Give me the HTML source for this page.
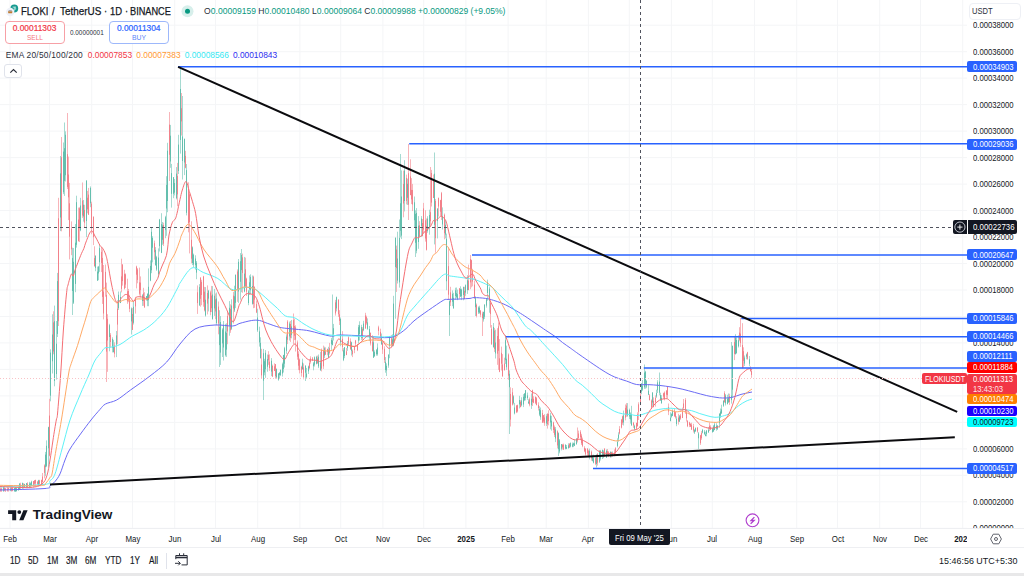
<!DOCTYPE html>
<html><head><meta charset="utf-8"><title>FLOKI / TetherUS</title>
<style>
*{box-sizing:border-box;margin:0;padding:0}
html,body{width:1024px;height:576px;overflow:hidden;background:#fff}
body{position:relative;font-family:"Liberation Sans",Arial,sans-serif;color:#131722}
#chart{position:absolute;left:0;top:0;width:1024px;height:576px}
.abs{position:absolute;white-space:nowrap}
.pl{position:absolute;left:973px;height:12px;line-height:12px;font-size:8.7px;color:#131722;transform:scaleX(0.885);transform-origin:0 50%;white-space:nowrap}
.pb{position:absolute;left:967.3px;width:49.7px;border-radius:2px;overflow:hidden;white-space:nowrap}
.pb span{position:absolute;left:5.5px;top:50%;margin-top:-6px;height:12px;line-height:12px;font-size:8.7px;transform:scaleX(0.885);transform-origin:0 50%}
.tl{position:absolute;top:532.5px;width:40px;text-align:center;font-size:8.5px;line-height:12px;color:#131722;transform:scaleX(0.93)}
.tl.b{font-weight:bold}
#taxis{position:absolute;left:0;top:528px;width:967px;height:19px;overflow:hidden}
#taxis .tl{top:4.5px}
#tb span{transform:scaleX(0.82);transform-origin:0 50%}
.tw{position:absolute;top:0;transform:scaleX(0.86);transform-origin:0 50%;white-space:nowrap}
</style></head>
<body>
<svg id="chart" width="1024" height="576" viewBox="0 0 1024 576">
<defs><clipPath id="cc"><rect x="0" y="0" width="967" height="528"/></clipPath></defs>
<g clip-path="url(#cc)">
<g stroke="#f4f5f7" stroke-width="1"><line x1="10.0" y1="0" x2="10.0" y2="528" /><line x1="49.5" y1="0" x2="49.5" y2="528" /><line x1="91.7" y1="0" x2="91.7" y2="528" /><line x1="132.5" y1="0" x2="132.5" y2="528" /><line x1="174.7" y1="0" x2="174.7" y2="528" /><line x1="215.5" y1="0" x2="215.5" y2="528" /><line x1="257.7" y1="0" x2="257.7" y2="528" /><line x1="299.9" y1="0" x2="299.9" y2="528" /><line x1="340.7" y1="0" x2="340.7" y2="528" /><line x1="382.9" y1="0" x2="382.9" y2="528" /><line x1="423.7" y1="0" x2="423.7" y2="528" /><line x1="465.9" y1="0" x2="465.9" y2="528" /><line x1="508.1" y1="0" x2="508.1" y2="528" /><line x1="546.2" y1="0" x2="546.2" y2="528" /><line x1="588.4" y1="0" x2="588.4" y2="528" /><line x1="629.3" y1="0" x2="629.3" y2="528" /><line x1="671.4" y1="0" x2="671.4" y2="528" /><line x1="712.3" y1="0" x2="712.3" y2="528" /><line x1="754.5" y1="0" x2="754.5" y2="528" /><line x1="796.7" y1="0" x2="796.7" y2="528" /><line x1="837.5" y1="0" x2="837.5" y2="528" /><line x1="879.7" y1="0" x2="879.7" y2="528" /><line x1="920.5" y1="0" x2="920.5" y2="528" /><line x1="962.7" y1="0" x2="962.7" y2="528" /><line x1="0" y1="528.3" x2="967" y2="528.3" /><line x1="0" y1="501.8" x2="967" y2="501.8" /><line x1="0" y1="475.3" x2="967" y2="475.3" /><line x1="0" y1="448.9" x2="967" y2="448.9" /><line x1="0" y1="422.4" x2="967" y2="422.4" /><line x1="0" y1="395.9" x2="967" y2="395.9" /><line x1="0" y1="369.4" x2="967" y2="369.4" /><line x1="0" y1="342.9" x2="967" y2="342.9" /><line x1="0" y1="316.5" x2="967" y2="316.5" /><line x1="0" y1="290.0" x2="967" y2="290.0" /><line x1="0" y1="263.5" x2="967" y2="263.5" /><line x1="0" y1="237.0" x2="967" y2="237.0" /><line x1="0" y1="210.5" x2="967" y2="210.5" /><line x1="0" y1="184.1" x2="967" y2="184.1" /><line x1="0" y1="157.6" x2="967" y2="157.6" /><line x1="0" y1="131.1" x2="967" y2="131.1" /><line x1="0" y1="104.6" x2="967" y2="104.6" /><line x1="0" y1="78.1" x2="967" y2="78.1" /><line x1="0" y1="51.7" x2="967" y2="51.7" /><line x1="0" y1="25.2" x2="967" y2="25.2" /></g>
<rect x="0" y="487.4" width="1" height="4.5" fill="#f8b4b9"/>
<rect x="1" y="487.4" width="1" height="4.5" fill="#f8b4b9"/>
<rect x="3" y="487.1" width="1" height="4.8" fill="#a6dad1"/>
<rect x="4" y="487.2" width="1" height="4.1" fill="#f8b4b9"/>
<rect x="5" y="488.1" width="1" height="3.9" fill="#f8b4b9"/>
<rect x="7" y="487.1" width="1" height="4.5" fill="#f8b4b9"/>
<rect x="8" y="487.7" width="1" height="3.9" fill="#f8b4b9"/>
<rect x="10" y="487.2" width="1" height="4.0" fill="#a6dad1"/>
<rect x="11" y="487.3" width="1" height="4.3" fill="#f8b4b9"/>
<rect x="12" y="487.3" width="1" height="4.0" fill="#f8b4b9"/>
<rect x="14" y="487.7" width="1" height="4.2" fill="#a6dad1"/>
<rect x="15" y="486.9" width="1" height="5.0" fill="#a6dad1"/>
<rect x="16" y="487.3" width="1" height="4.3" fill="#a6dad1"/>
<rect x="18" y="486.3" width="1" height="4.4" fill="#a6dad1"/>
<rect x="19" y="483.0" width="1" height="6.3" fill="#a6dad1"/>
<rect x="20" y="482.7" width="1" height="6.5" fill="#f8b4b9"/>
<rect x="22" y="482.7" width="1" height="6.7" fill="#a6dad1"/>
<rect x="23" y="483.1" width="1" height="5.6" fill="#f8b4b9"/>
<rect x="24" y="483.7" width="1" height="4.1" fill="#a6dad1"/>
<rect x="26" y="483.0" width="1" height="5.2" fill="#a6dad1"/>
<rect x="27" y="482.2" width="1" height="6.0" fill="#f8b4b9"/>
<rect x="29" y="481.8" width="1" height="6.4" fill="#a6dad1"/>
<rect x="30" y="482.4" width="1" height="4.5" fill="#a6dad1"/>
<rect x="31" y="480.7" width="1" height="5.5" fill="#a6dad1"/>
<rect x="33" y="481.0" width="1" height="5.8" fill="#f8b4b9"/>
<rect x="34" y="480.2" width="1" height="6.6" fill="#f8b4b9"/>
<rect x="35" y="479.8" width="1" height="6.8" fill="#f8b4b9"/>
<rect x="37" y="480.9" width="1" height="4.7" fill="#f8b4b9"/>
<rect x="38" y="479.8" width="1" height="6.3" fill="#a6dad1"/>
<rect x="39" y="479.8" width="1" height="6.1" fill="#f8b4b9"/>
<rect x="41" y="479.6" width="1" height="5.5" fill="#f8b4b9"/>
<rect x="42" y="473.0" width="1" height="9.3" fill="#f8b4b9"/>
<rect x="44" y="464.4" width="1" height="14.0" fill="#f8b4b9"/>
<rect x="45" y="451.9" width="1" height="24.3" fill="#a6dad1"/>
<rect x="46" y="440.4" width="1" height="26.7" fill="#a6dad1"/>
<rect x="48" y="426.7" width="1" height="40.0" fill="#a6dad1"/>
<rect x="49" y="398.8" width="1" height="57.6" fill="#f8b4b9"/>
<rect x="50" y="349.3" width="1" height="52.0" fill="#a6dad1"/>
<rect x="52" y="314.3" width="1" height="59.2" fill="#a6dad1"/>
<rect x="53" y="311.3" width="1" height="43.0" fill="#f8b4b9"/>
<rect x="54" y="305.6" width="1" height="80.7" fill="#a6dad1"/>
<rect x="56" y="321.0" width="1" height="58.6" fill="#a6dad1"/>
<rect x="57" y="272.9" width="1" height="64.1" fill="#a6dad1"/>
<rect x="58" y="197.8" width="1" height="128.2" fill="#f8b4b9"/>
<rect x="60" y="156.0" width="1" height="75.1" fill="#a6dad1"/>
<rect x="61" y="137.0" width="1" height="94.3" fill="#f8b4b9"/>
<rect x="63" y="142.5" width="1" height="51.6" fill="#a6dad1"/>
<rect x="64" y="122.5" width="1" height="73.4" fill="#a6dad1"/>
<rect x="65" y="131.3" width="1" height="50.2" fill="#a6dad1"/>
<rect x="67" y="113.0" width="1" height="76.0" fill="#f8b4b9"/>
<rect x="68" y="156.6" width="1" height="63.5" fill="#f8b4b9"/>
<rect x="69" y="182.9" width="1" height="76.5" fill="#f8b4b9"/>
<rect x="71" y="221.4" width="1" height="33.8" fill="#f8b4b9"/>
<rect x="72" y="247.7" width="1" height="67.3" fill="#a6dad1"/>
<rect x="73" y="248.0" width="1" height="56.0" fill="#a6dad1"/>
<rect x="75" y="224.1" width="1" height="68.1" fill="#a6dad1"/>
<rect x="76" y="195.7" width="1" height="51.9" fill="#a6dad1"/>
<rect x="78" y="207.6" width="1" height="34.0" fill="#f8b4b9"/>
<rect x="79" y="207.2" width="1" height="34.8" fill="#f8b4b9"/>
<rect x="80" y="197.8" width="1" height="33.4" fill="#a6dad1"/>
<rect x="82" y="182.5" width="1" height="35.4" fill="#f8b4b9"/>
<rect x="83" y="200.0" width="1" height="21.6" fill="#a6dad1"/>
<rect x="84" y="204.8" width="1" height="22.7" fill="#f8b4b9"/>
<rect x="86" y="180.3" width="1" height="56.8" fill="#a6dad1"/>
<rect x="87" y="190.9" width="1" height="22.4" fill="#f8b4b9"/>
<rect x="88" y="187.9" width="1" height="27.0" fill="#f8b4b9"/>
<rect x="90" y="186.4" width="1" height="20.8" fill="#a6dad1"/>
<rect x="91" y="201.7" width="1" height="32.5" fill="#f8b4b9"/>
<rect x="93" y="216.2" width="1" height="28.9" fill="#f8b4b9"/>
<rect x="94" y="246.3" width="1" height="20.5" fill="#f8b4b9"/>
<rect x="95" y="255.5" width="1" height="15.7" fill="#a6dad1"/>
<rect x="97" y="266.6" width="1" height="14.3" fill="#a6dad1"/>
<rect x="98" y="265.9" width="1" height="14.3" fill="#a6dad1"/>
<rect x="99" y="243.9" width="1" height="27.9" fill="#a6dad1"/>
<rect x="101" y="247.0" width="1" height="25.1" fill="#f8b4b9"/>
<rect x="102" y="249.4" width="1" height="54.5" fill="#f8b4b9"/>
<rect x="103" y="265.0" width="1" height="54.4" fill="#f8b4b9"/>
<rect x="105" y="264.5" width="1" height="32.2" fill="#f8b4b9"/>
<rect x="106" y="282.6" width="1" height="99.4" fill="#f8b4b9"/>
<rect x="107" y="314.2" width="1" height="57.6" fill="#f8b4b9"/>
<rect x="109" y="323.8" width="1" height="27.5" fill="#a6dad1"/>
<rect x="110" y="333.1" width="1" height="14.4" fill="#f8b4b9"/>
<rect x="112" y="337.3" width="1" height="15.1" fill="#a6dad1"/>
<rect x="113" y="339.8" width="1" height="12.6" fill="#a6dad1"/>
<rect x="114" y="342.3" width="1" height="15.1" fill="#f8b4b9"/>
<rect x="116" y="331.0" width="1" height="26.1" fill="#a6dad1"/>
<rect x="117" y="300.2" width="1" height="44.1" fill="#f8b4b9"/>
<rect x="118" y="291.5" width="1" height="18.4" fill="#a6dad1"/>
<rect x="120" y="291.4" width="1" height="11.7" fill="#a6dad1"/>
<rect x="121" y="258.7" width="1" height="33.7" fill="#f8b4b9"/>
<rect x="122" y="264.0" width="1" height="21.6" fill="#f8b4b9"/>
<rect x="124" y="269.8" width="1" height="19.7" fill="#f8b4b9"/>
<rect x="125" y="273.4" width="1" height="14.6" fill="#f8b4b9"/>
<rect x="127" y="278.7" width="1" height="25.1" fill="#f8b4b9"/>
<rect x="128" y="288.9" width="1" height="13.3" fill="#f8b4b9"/>
<rect x="129" y="294.8" width="1" height="17.3" fill="#f8b4b9"/>
<rect x="131" y="307.4" width="1" height="27.1" fill="#a6dad1"/>
<rect x="132" y="308.0" width="1" height="22.0" fill="#f8b4b9"/>
<rect x="133" y="301.3" width="1" height="23.2" fill="#a6dad1"/>
<rect x="135" y="296.9" width="1" height="16.7" fill="#f8b4b9"/>
<rect x="136" y="265.7" width="1" height="22.7" fill="#f8b4b9"/>
<rect x="137" y="268.1" width="1" height="15.2" fill="#f8b4b9"/>
<rect x="139" y="267.6" width="1" height="27.9" fill="#f8b4b9"/>
<rect x="140" y="276.4" width="1" height="21.0" fill="#f8b4b9"/>
<rect x="142" y="294.2" width="1" height="11.7" fill="#a6dad1"/>
<rect x="143" y="287.8" width="1" height="18.0" fill="#f8b4b9"/>
<rect x="144" y="292.2" width="1" height="15.7" fill="#f8b4b9"/>
<rect x="146" y="296.1" width="1" height="4.6" fill="#a6dad1"/>
<rect x="147" y="293.2" width="1" height="13.0" fill="#a6dad1"/>
<rect x="148" y="268.4" width="1" height="37.8" fill="#a6dad1"/>
<rect x="150" y="260.4" width="1" height="20.8" fill="#a6dad1"/>
<rect x="151" y="227.8" width="1" height="45.4" fill="#a6dad1"/>
<rect x="152" y="236.2" width="1" height="26.2" fill="#a6dad1"/>
<rect x="154" y="240.6" width="1" height="19.0" fill="#f8b4b9"/>
<rect x="155" y="247.1" width="1" height="18.5" fill="#a6dad1"/>
<rect x="156" y="255.8" width="1" height="15.0" fill="#a6dad1"/>
<rect x="158" y="248.4" width="1" height="28.7" fill="#a6dad1"/>
<rect x="159" y="218.9" width="1" height="32.6" fill="#a6dad1"/>
<rect x="161" y="213.2" width="1" height="39.9" fill="#a6dad1"/>
<rect x="162" y="222.0" width="1" height="22.8" fill="#a6dad1"/>
<rect x="163" y="222.7" width="1" height="23.3" fill="#f8b4b9"/>
<rect x="165" y="215.8" width="1" height="22.4" fill="#a6dad1"/>
<rect x="166" y="176.2" width="1" height="59.6" fill="#a6dad1"/>
<rect x="167" y="142.8" width="1" height="69.4" fill="#a6dad1"/>
<rect x="169" y="112.0" width="1" height="69.0" fill="#f8b4b9"/>
<rect x="170" y="124.9" width="1" height="42.9" fill="#a6dad1"/>
<rect x="171" y="163.9" width="1" height="43.7" fill="#a6dad1"/>
<rect x="173" y="177.1" width="1" height="21.1" fill="#a6dad1"/>
<rect x="174" y="179.0" width="1" height="16.4" fill="#a6dad1"/>
<rect x="176" y="167.1" width="1" height="32.3" fill="#a6dad1"/>
<rect x="177" y="162.9" width="1" height="43.4" fill="#f8b4b9"/>
<rect x="178" y="134.8" width="1" height="39.2" fill="#a6dad1"/>
<rect x="180" y="66.0" width="1" height="87.6" fill="#a6dad1"/>
<rect x="181" y="93.0" width="1" height="42.5" fill="#f8b4b9"/>
<rect x="182" y="96.0" width="1" height="83.5" fill="#a6dad1"/>
<rect x="184" y="138.7" width="1" height="36.4" fill="#a6dad1"/>
<rect x="185" y="150.8" width="1" height="17.5" fill="#f8b4b9"/>
<rect x="186" y="164.0" width="1" height="51.4" fill="#a6dad1"/>
<rect x="188" y="182.3" width="1" height="50.0" fill="#f8b4b9"/>
<rect x="189" y="193.2" width="1" height="60.2" fill="#f8b4b9"/>
<rect x="191" y="221.3" width="1" height="42.0" fill="#f8b4b9"/>
<rect x="192" y="246.4" width="1" height="18.7" fill="#a6dad1"/>
<rect x="193" y="253.6" width="1" height="13.5" fill="#a6dad1"/>
<rect x="195" y="255.3" width="1" height="14.3" fill="#a6dad1"/>
<rect x="196" y="261.0" width="1" height="18.2" fill="#a6dad1"/>
<rect x="197" y="285.4" width="1" height="28.5" fill="#f8b4b9"/>
<rect x="199" y="284.1" width="1" height="21.6" fill="#a6dad1"/>
<rect x="200" y="277.4" width="1" height="29.3" fill="#f8b4b9"/>
<rect x="201" y="279.8" width="1" height="25.4" fill="#f8b4b9"/>
<rect x="203" y="275.8" width="1" height="30.9" fill="#f8b4b9"/>
<rect x="204" y="286.9" width="1" height="24.5" fill="#f8b4b9"/>
<rect x="205" y="287.1" width="1" height="29.5" fill="#a6dad1"/>
<rect x="207" y="285.4" width="1" height="29.0" fill="#f8b4b9"/>
<rect x="208" y="289.9" width="1" height="21.5" fill="#a6dad1"/>
<rect x="210" y="290.7" width="1" height="24.6" fill="#f8b4b9"/>
<rect x="211" y="285.9" width="1" height="26.2" fill="#f8b4b9"/>
<rect x="212" y="286.1" width="1" height="33.6" fill="#a6dad1"/>
<rect x="214" y="288.9" width="1" height="27.0" fill="#a6dad1"/>
<rect x="215" y="293.5" width="1" height="25.6" fill="#f8b4b9"/>
<rect x="216" y="292.5" width="1" height="32.6" fill="#a6dad1"/>
<rect x="218" y="301.5" width="1" height="32.8" fill="#f8b4b9"/>
<rect x="219" y="310.2" width="1" height="56.8" fill="#a6dad1"/>
<rect x="220" y="316.0" width="1" height="48.9" fill="#a6dad1"/>
<rect x="222" y="328.2" width="1" height="28.8" fill="#a6dad1"/>
<rect x="223" y="321.0" width="1" height="39.5" fill="#a6dad1"/>
<rect x="225" y="323.9" width="1" height="32.6" fill="#a6dad1"/>
<rect x="226" y="323.3" width="1" height="33.6" fill="#a6dad1"/>
<rect x="227" y="311.8" width="1" height="32.4" fill="#f8b4b9"/>
<rect x="229" y="301.1" width="1" height="34.6" fill="#a6dad1"/>
<rect x="230" y="304.3" width="1" height="28.5" fill="#f8b4b9"/>
<rect x="231" y="299.3" width="1" height="30.6" fill="#a6dad1"/>
<rect x="233" y="292.0" width="1" height="31.6" fill="#f8b4b9"/>
<rect x="234" y="285.7" width="1" height="26.3" fill="#a6dad1"/>
<rect x="235" y="274.3" width="1" height="33.8" fill="#a6dad1"/>
<rect x="237" y="269.4" width="1" height="32.4" fill="#f8b4b9"/>
<rect x="238" y="259.0" width="1" height="43.9" fill="#a6dad1"/>
<rect x="240" y="253.1" width="1" height="46.6" fill="#a6dad1"/>
<rect x="241" y="249.0" width="1" height="43.2" fill="#a6dad1"/>
<rect x="242" y="253.6" width="1" height="39.2" fill="#f8b4b9"/>
<rect x="244" y="256.9" width="1" height="35.4" fill="#a6dad1"/>
<rect x="245" y="257.6" width="1" height="30.4" fill="#f8b4b9"/>
<rect x="246" y="277.7" width="1" height="18.2" fill="#f8b4b9"/>
<rect x="248" y="289.9" width="1" height="15.3" fill="#a6dad1"/>
<rect x="249" y="275.4" width="1" height="19.6" fill="#a6dad1"/>
<rect x="250" y="274.3" width="1" height="20.2" fill="#a6dad1"/>
<rect x="252" y="275.5" width="1" height="29.1" fill="#a6dad1"/>
<rect x="253" y="275.7" width="1" height="32.5" fill="#f8b4b9"/>
<rect x="254" y="286.4" width="1" height="21.4" fill="#f8b4b9"/>
<rect x="256" y="300.6" width="1" height="12.5" fill="#f8b4b9"/>
<rect x="257" y="308.7" width="1" height="23.2" fill="#a6dad1"/>
<rect x="259" y="326.7" width="1" height="19.9" fill="#a6dad1"/>
<rect x="260" y="337.3" width="1" height="21.4" fill="#a6dad1"/>
<rect x="261" y="348.8" width="1" height="29.6" fill="#f8b4b9"/>
<rect x="263" y="348.9" width="1" height="51.1" fill="#a6dad1"/>
<rect x="264" y="358.8" width="1" height="16.5" fill="#a6dad1"/>
<rect x="265" y="350.1" width="1" height="27.7" fill="#a6dad1"/>
<rect x="267" y="354.5" width="1" height="17.2" fill="#a6dad1"/>
<rect x="268" y="351.2" width="1" height="13.6" fill="#f8b4b9"/>
<rect x="269" y="354.4" width="1" height="16.4" fill="#f8b4b9"/>
<rect x="271" y="358.1" width="1" height="18.0" fill="#a6dad1"/>
<rect x="272" y="364.6" width="1" height="12.4" fill="#f8b4b9"/>
<rect x="274" y="363.3" width="1" height="7.8" fill="#f8b4b9"/>
<rect x="275" y="364.0" width="1" height="14.7" fill="#f8b4b9"/>
<rect x="276" y="368.4" width="1" height="10.3" fill="#a6dad1"/>
<rect x="278" y="373.2" width="1" height="7.5" fill="#a6dad1"/>
<rect x="279" y="371.9" width="1" height="6.6" fill="#a6dad1"/>
<rect x="280" y="369.6" width="1" height="6.5" fill="#a6dad1"/>
<rect x="282" y="362.6" width="1" height="13.9" fill="#a6dad1"/>
<rect x="283" y="354.8" width="1" height="17.7" fill="#a6dad1"/>
<rect x="284" y="346.8" width="1" height="20.7" fill="#a6dad1"/>
<rect x="286" y="334.3" width="1" height="19.5" fill="#a6dad1"/>
<rect x="287" y="320.2" width="1" height="23.9" fill="#f8b4b9"/>
<rect x="289" y="321.6" width="1" height="18.9" fill="#a6dad1"/>
<rect x="290" y="320.9" width="1" height="21.0" fill="#f8b4b9"/>
<rect x="291" y="319.9" width="1" height="18.4" fill="#a6dad1"/>
<rect x="293" y="313.5" width="1" height="30.9" fill="#f8b4b9"/>
<rect x="294" y="318.6" width="1" height="21.5" fill="#f8b4b9"/>
<rect x="295" y="325.3" width="1" height="26.2" fill="#f8b4b9"/>
<rect x="297" y="340.5" width="1" height="19.2" fill="#f8b4b9"/>
<rect x="298" y="351.3" width="1" height="18.8" fill="#f8b4b9"/>
<rect x="299" y="358.5" width="1" height="14.9" fill="#f8b4b9"/>
<rect x="301" y="365.7" width="1" height="10.9" fill="#f8b4b9"/>
<rect x="302" y="358.7" width="1" height="10.9" fill="#a6dad1"/>
<rect x="303" y="363.4" width="1" height="15.9" fill="#f8b4b9"/>
<rect x="305" y="365.3" width="1" height="15.7" fill="#a6dad1"/>
<rect x="306" y="367.9" width="1" height="10.2" fill="#a6dad1"/>
<rect x="308" y="365.6" width="1" height="8.4" fill="#a6dad1"/>
<rect x="309" y="359.4" width="1" height="9.9" fill="#f8b4b9"/>
<rect x="310" y="356.3" width="1" height="7.3" fill="#f8b4b9"/>
<rect x="312" y="357.0" width="1" height="4.0" fill="#f8b4b9"/>
<rect x="313" y="362.1" width="1" height="8.2" fill="#a6dad1"/>
<rect x="314" y="356.4" width="1" height="10.1" fill="#a6dad1"/>
<rect x="316" y="355.8" width="1" height="8.6" fill="#a6dad1"/>
<rect x="317" y="355.6" width="1" height="8.2" fill="#f8b4b9"/>
<rect x="318" y="354.5" width="1" height="13.6" fill="#a6dad1"/>
<rect x="320" y="351.8" width="1" height="19.2" fill="#a6dad1"/>
<rect x="321" y="348.5" width="1" height="22.9" fill="#f8b4b9"/>
<rect x="323" y="345.6" width="1" height="23.3" fill="#f8b4b9"/>
<rect x="324" y="346.7" width="1" height="11.4" fill="#a6dad1"/>
<rect x="325" y="347.3" width="1" height="7.7" fill="#f8b4b9"/>
<rect x="327" y="348.6" width="1" height="6.7" fill="#f8b4b9"/>
<rect x="328" y="346.8" width="1" height="11.3" fill="#a6dad1"/>
<rect x="329" y="342.9" width="1" height="11.7" fill="#f8b4b9"/>
<rect x="331" y="337.9" width="1" height="12.0" fill="#a6dad1"/>
<rect x="332" y="294.5" width="1" height="50.8" fill="#a6dad1"/>
<rect x="333" y="323.9" width="1" height="16.6" fill="#a6dad1"/>
<rect x="335" y="299.9" width="1" height="15.7" fill="#f8b4b9"/>
<rect x="336" y="296.6" width="1" height="14.8" fill="#a6dad1"/>
<rect x="338" y="299.5" width="1" height="17.4" fill="#f8b4b9"/>
<rect x="339" y="310.2" width="1" height="14.8" fill="#f8b4b9"/>
<rect x="340" y="317.5" width="1" height="28.7" fill="#a6dad1"/>
<rect x="342" y="331.2" width="1" height="20.1" fill="#f8b4b9"/>
<rect x="343" y="348.2" width="1" height="12.9" fill="#a6dad1"/>
<rect x="344" y="347.1" width="1" height="11.1" fill="#a6dad1"/>
<rect x="346" y="348.0" width="1" height="7.2" fill="#f8b4b9"/>
<rect x="347" y="341.0" width="1" height="9.8" fill="#a6dad1"/>
<rect x="348" y="336.3" width="1" height="9.3" fill="#f8b4b9"/>
<rect x="350" y="338.4" width="1" height="11.6" fill="#f8b4b9"/>
<rect x="351" y="341.7" width="1" height="13.8" fill="#a6dad1"/>
<rect x="352" y="349.4" width="1" height="7.7" fill="#f8b4b9"/>
<rect x="354" y="345.9" width="1" height="7.3" fill="#f8b4b9"/>
<rect x="355" y="339.9" width="1" height="6.1" fill="#f8b4b9"/>
<rect x="357" y="344.3" width="1" height="6.8" fill="#f8b4b9"/>
<rect x="358" y="324.9" width="1" height="18.8" fill="#a6dad1"/>
<rect x="359" y="321.3" width="1" height="19.2" fill="#a6dad1"/>
<rect x="361" y="324.8" width="1" height="15.4" fill="#a6dad1"/>
<rect x="362" y="327.2" width="1" height="14.1" fill="#f8b4b9"/>
<rect x="363" y="320.8" width="1" height="10.4" fill="#a6dad1"/>
<rect x="365" y="312.8" width="1" height="16.2" fill="#f8b4b9"/>
<rect x="366" y="315.7" width="1" height="9.0" fill="#f8b4b9"/>
<rect x="367" y="318.4" width="1" height="11.4" fill="#a6dad1"/>
<rect x="369" y="326.0" width="1" height="15.1" fill="#a6dad1"/>
<rect x="370" y="332.5" width="1" height="13.0" fill="#f8b4b9"/>
<rect x="372" y="335.2" width="1" height="16.2" fill="#f8b4b9"/>
<rect x="373" y="337.3" width="1" height="20.7" fill="#a6dad1"/>
<rect x="374" y="350.4" width="1" height="6.5" fill="#a6dad1"/>
<rect x="376" y="349.0" width="1" height="6.7" fill="#a6dad1"/>
<rect x="377" y="343.4" width="1" height="12.3" fill="#a6dad1"/>
<rect x="378" y="325.7" width="1" height="9.6" fill="#f8b4b9"/>
<rect x="380" y="328.7" width="1" height="10.2" fill="#f8b4b9"/>
<rect x="381" y="333.5" width="1" height="11.1" fill="#a6dad1"/>
<rect x="382" y="341.5" width="1" height="12.4" fill="#f8b4b9"/>
<rect x="384" y="346.3" width="1" height="16.6" fill="#f8b4b9"/>
<rect x="385" y="357.1" width="1" height="15.6" fill="#a6dad1"/>
<rect x="386" y="363.3" width="1" height="12.7" fill="#a6dad1"/>
<rect x="388" y="354.1" width="1" height="13.7" fill="#a6dad1"/>
<rect x="389" y="336.6" width="1" height="21.6" fill="#a6dad1"/>
<rect x="391" y="335.2" width="1" height="12.9" fill="#f8b4b9"/>
<rect x="392" y="334.3" width="1" height="11.9" fill="#a6dad1"/>
<rect x="393" y="295.8" width="1" height="50.4" fill="#a6dad1"/>
<rect x="395" y="237.3" width="1" height="81.4" fill="#a6dad1"/>
<rect x="396" y="245.6" width="1" height="46.3" fill="#f8b4b9"/>
<rect x="397" y="231.7" width="1" height="51.8" fill="#a6dad1"/>
<rect x="399" y="219.5" width="1" height="68.1" fill="#a6dad1"/>
<rect x="400" y="154.0" width="1" height="83.4" fill="#a6dad1"/>
<rect x="401" y="170.4" width="1" height="68.7" fill="#a6dad1"/>
<rect x="403" y="170.6" width="1" height="46.7" fill="#f8b4b9"/>
<rect x="404" y="160.2" width="1" height="51.2" fill="#a6dad1"/>
<rect x="406" y="174.6" width="1" height="29.8" fill="#f8b4b9"/>
<rect x="407" y="178.6" width="1" height="26.3" fill="#a6dad1"/>
<rect x="408" y="144.0" width="1" height="76.0" fill="#f8b4b9"/>
<rect x="410" y="159.3" width="1" height="36.0" fill="#f8b4b9"/>
<rect x="411" y="178.1" width="1" height="26.0" fill="#f8b4b9"/>
<rect x="412" y="183.9" width="1" height="27.2" fill="#f8b4b9"/>
<rect x="414" y="196.5" width="1" height="31.5" fill="#a6dad1"/>
<rect x="415" y="210.3" width="1" height="46.7" fill="#a6dad1"/>
<rect x="416" y="208.1" width="1" height="45.2" fill="#a6dad1"/>
<rect x="418" y="216.1" width="1" height="32.7" fill="#a6dad1"/>
<rect x="419" y="221.2" width="1" height="15.9" fill="#f8b4b9"/>
<rect x="421" y="216.1" width="1" height="20.9" fill="#a6dad1"/>
<rect x="422" y="219.0" width="1" height="17.4" fill="#f8b4b9"/>
<rect x="423" y="202.9" width="1" height="30.4" fill="#f8b4b9"/>
<rect x="425" y="210.2" width="1" height="31.4" fill="#f8b4b9"/>
<rect x="426" y="218.5" width="1" height="32.0" fill="#f8b4b9"/>
<rect x="427" y="216.2" width="1" height="16.5" fill="#a6dad1"/>
<rect x="429" y="209.7" width="1" height="25.0" fill="#a6dad1"/>
<rect x="430" y="167.0" width="1" height="59.2" fill="#f8b4b9"/>
<rect x="431" y="169.9" width="1" height="36.6" fill="#f8b4b9"/>
<rect x="433" y="174.5" width="1" height="23.6" fill="#f8b4b9"/>
<rect x="434" y="152.5" width="1" height="91.9" fill="#a6dad1"/>
<rect x="435" y="199.0" width="1" height="53.8" fill="#f8b4b9"/>
<rect x="437" y="208.3" width="1" height="30.1" fill="#a6dad1"/>
<rect x="438" y="197.5" width="1" height="19.0" fill="#f8b4b9"/>
<rect x="440" y="199.8" width="1" height="16.1" fill="#f8b4b9"/>
<rect x="441" y="191.9" width="1" height="28.1" fill="#f8b4b9"/>
<rect x="442" y="207.4" width="1" height="22.1" fill="#a6dad1"/>
<rect x="444" y="213.5" width="1" height="25.8" fill="#f8b4b9"/>
<rect x="445" y="220.1" width="1" height="18.2" fill="#a6dad1"/>
<rect x="446" y="233.6" width="1" height="56.6" fill="#a6dad1"/>
<rect x="448" y="247.4" width="1" height="52.5" fill="#f8b4b9"/>
<rect x="449" y="300.3" width="1" height="35.7" fill="#a6dad1"/>
<rect x="450" y="286.8" width="1" height="19.2" fill="#f8b4b9"/>
<rect x="452" y="290.4" width="1" height="15.8" fill="#a6dad1"/>
<rect x="453" y="292.8" width="1" height="16.0" fill="#a6dad1"/>
<rect x="455" y="287.7" width="1" height="11.9" fill="#a6dad1"/>
<rect x="456" y="287.5" width="1" height="10.7" fill="#a6dad1"/>
<rect x="457" y="289.6" width="1" height="10.6" fill="#a6dad1"/>
<rect x="459" y="288.0" width="1" height="10.6" fill="#f8b4b9"/>
<rect x="460" y="286.3" width="1" height="10.5" fill="#a6dad1"/>
<rect x="461" y="288.6" width="1" height="11.5" fill="#a6dad1"/>
<rect x="463" y="286.6" width="1" height="13.7" fill="#a6dad1"/>
<rect x="464" y="286.8" width="1" height="12.6" fill="#f8b4b9"/>
<rect x="465" y="284.4" width="1" height="11.4" fill="#a6dad1"/>
<rect x="467" y="275.2" width="1" height="18.7" fill="#a6dad1"/>
<rect x="468" y="264.6" width="1" height="25.6" fill="#f8b4b9"/>
<rect x="470" y="255.0" width="1" height="34.2" fill="#f8b4b9"/>
<rect x="471" y="259.6" width="1" height="27.7" fill="#f8b4b9"/>
<rect x="472" y="268.8" width="1" height="17.5" fill="#f8b4b9"/>
<rect x="474" y="280.6" width="1" height="18.3" fill="#f8b4b9"/>
<rect x="475" y="296.3" width="1" height="19.7" fill="#a6dad1"/>
<rect x="476" y="303.5" width="1" height="13.9" fill="#f8b4b9"/>
<rect x="478" y="306.4" width="1" height="7.6" fill="#a6dad1"/>
<rect x="479" y="305.7" width="1" height="8.0" fill="#a6dad1"/>
<rect x="480" y="310.1" width="1" height="7.1" fill="#f8b4b9"/>
<rect x="482" y="311.6" width="1" height="24.4" fill="#f8b4b9"/>
<rect x="483" y="311.8" width="1" height="9.8" fill="#a6dad1"/>
<rect x="484" y="304.4" width="1" height="14.5" fill="#a6dad1"/>
<rect x="486" y="298.4" width="1" height="9.2" fill="#a6dad1"/>
<rect x="487" y="279.6" width="1" height="21.1" fill="#a6dad1"/>
<rect x="489" y="286.7" width="1" height="26.0" fill="#a6dad1"/>
<rect x="490" y="302.2" width="1" height="25.4" fill="#f8b4b9"/>
<rect x="491" y="325.0" width="1" height="19.7" fill="#f8b4b9"/>
<rect x="493" y="323.0" width="1" height="24.7" fill="#a6dad1"/>
<rect x="494" y="327.9" width="1" height="24.0" fill="#f8b4b9"/>
<rect x="495" y="329.7" width="1" height="28.8" fill="#a6dad1"/>
<rect x="497" y="328.2" width="1" height="36.6" fill="#f8b4b9"/>
<rect x="498" y="322.5" width="1" height="47.4" fill="#f8b4b9"/>
<rect x="499" y="339.1" width="1" height="33.1" fill="#f8b4b9"/>
<rect x="501" y="346.6" width="1" height="23.9" fill="#f8b4b9"/>
<rect x="502" y="354.1" width="1" height="22.4" fill="#f8b4b9"/>
<rect x="504" y="357.7" width="1" height="13.0" fill="#f8b4b9"/>
<rect x="505" y="335.0" width="1" height="28.9" fill="#a6dad1"/>
<rect x="506" y="345.6" width="1" height="24.3" fill="#a6dad1"/>
<rect x="508" y="353.4" width="1" height="26.4" fill="#f8b4b9"/>
<rect x="509" y="370.4" width="1" height="63.6" fill="#a6dad1"/>
<rect x="510" y="387.3" width="1" height="39.2" fill="#f8b4b9"/>
<rect x="512" y="388.1" width="1" height="17.4" fill="#f8b4b9"/>
<rect x="513" y="395.2" width="1" height="9.2" fill="#a6dad1"/>
<rect x="514" y="402.9" width="1" height="11.5" fill="#a6dad1"/>
<rect x="516" y="405.0" width="1" height="8.1" fill="#f8b4b9"/>
<rect x="517" y="404.6" width="1" height="7.9" fill="#f8b4b9"/>
<rect x="519" y="395.8" width="1" height="12.6" fill="#a6dad1"/>
<rect x="520" y="400.2" width="1" height="7.2" fill="#f8b4b9"/>
<rect x="521" y="397.3" width="1" height="9.1" fill="#a6dad1"/>
<rect x="523" y="394.1" width="1" height="13.0" fill="#a6dad1"/>
<rect x="524" y="393.2" width="1" height="7.9" fill="#a6dad1"/>
<rect x="525" y="390.1" width="1" height="10.3" fill="#a6dad1"/>
<rect x="527" y="392.6" width="1" height="7.2" fill="#a6dad1"/>
<rect x="528" y="399.3" width="1" height="4.5" fill="#a6dad1"/>
<rect x="529" y="397.5" width="1" height="8.8" fill="#f8b4b9"/>
<rect x="531" y="393.5" width="1" height="15.4" fill="#a6dad1"/>
<rect x="532" y="389.6" width="1" height="16.4" fill="#f8b4b9"/>
<rect x="533" y="396.2" width="1" height="7.0" fill="#f8b4b9"/>
<rect x="535" y="396.3" width="1" height="7.8" fill="#f8b4b9"/>
<rect x="536" y="397.1" width="1" height="8.2" fill="#f8b4b9"/>
<rect x="538" y="402.3" width="1" height="8.2" fill="#f8b4b9"/>
<rect x="539" y="406.2" width="1" height="9.9" fill="#a6dad1"/>
<rect x="540" y="407.5" width="1" height="12.3" fill="#a6dad1"/>
<rect x="542" y="409.9" width="1" height="12.9" fill="#f8b4b9"/>
<rect x="543" y="415.1" width="1" height="7.8" fill="#f8b4b9"/>
<rect x="544" y="414.2" width="1" height="11.6" fill="#f8b4b9"/>
<rect x="546" y="414.2" width="1" height="11.8" fill="#a6dad1"/>
<rect x="547" y="413.2" width="1" height="15.4" fill="#f8b4b9"/>
<rect x="548" y="410.3" width="1" height="15.0" fill="#f8b4b9"/>
<rect x="550" y="412.7" width="1" height="16.6" fill="#a6dad1"/>
<rect x="551" y="415.8" width="1" height="14.8" fill="#a6dad1"/>
<rect x="553" y="421.7" width="1" height="11.2" fill="#f8b4b9"/>
<rect x="554" y="425.5" width="1" height="11.5" fill="#f8b4b9"/>
<rect x="555" y="427.1" width="1" height="15.0" fill="#a6dad1"/>
<rect x="557" y="430.3" width="1" height="18.1" fill="#f8b4b9"/>
<rect x="558" y="432.4" width="1" height="23.6" fill="#a6dad1"/>
<rect x="559" y="439.0" width="1" height="14.3" fill="#a6dad1"/>
<rect x="561" y="444.0" width="1" height="6.4" fill="#a6dad1"/>
<rect x="562" y="443.9" width="1" height="5.6" fill="#f8b4b9"/>
<rect x="563" y="443.6" width="1" height="6.2" fill="#f8b4b9"/>
<rect x="565" y="444.2" width="1" height="5.2" fill="#a6dad1"/>
<rect x="566" y="445.0" width="1" height="4.2" fill="#a6dad1"/>
<rect x="568" y="443.3" width="1" height="5.0" fill="#a6dad1"/>
<rect x="569" y="443.2" width="1" height="4.7" fill="#f8b4b9"/>
<rect x="570" y="442.5" width="1" height="4.9" fill="#a6dad1"/>
<rect x="572" y="442.5" width="1" height="4.8" fill="#a6dad1"/>
<rect x="573" y="442.6" width="1" height="4.5" fill="#a6dad1"/>
<rect x="574" y="439.8" width="1" height="6.3" fill="#a6dad1"/>
<rect x="576" y="438.3" width="1" height="6.5" fill="#a6dad1"/>
<rect x="577" y="427.5" width="1" height="15.0" fill="#f8b4b9"/>
<rect x="578" y="430.6" width="1" height="7.8" fill="#f8b4b9"/>
<rect x="580" y="430.2" width="1" height="10.0" fill="#f8b4b9"/>
<rect x="581" y="433.8" width="1" height="11.2" fill="#f8b4b9"/>
<rect x="582" y="437.6" width="1" height="9.6" fill="#f8b4b9"/>
<rect x="584" y="446.2" width="1" height="6.0" fill="#f8b4b9"/>
<rect x="585" y="448.4" width="1" height="7.2" fill="#f8b4b9"/>
<rect x="587" y="448.2" width="1" height="7.5" fill="#f8b4b9"/>
<rect x="588" y="449.8" width="1" height="7.5" fill="#f8b4b9"/>
<rect x="589" y="448.6" width="1" height="10.8" fill="#a6dad1"/>
<rect x="591" y="450.5" width="1" height="10.2" fill="#f8b4b9"/>
<rect x="592" y="454.8" width="1" height="6.6" fill="#a6dad1"/>
<rect x="593" y="454.6" width="1" height="8.8" fill="#a6dad1"/>
<rect x="595" y="456.3" width="1" height="8.8" fill="#f8b4b9"/>
<rect x="596" y="454.2" width="1" height="13.3" fill="#a6dad1"/>
<rect x="597" y="453.3" width="1" height="12.3" fill="#f8b4b9"/>
<rect x="599" y="450.1" width="1" height="12.8" fill="#a6dad1"/>
<rect x="600" y="449.9" width="1" height="10.6" fill="#a6dad1"/>
<rect x="602" y="449.5" width="1" height="9.5" fill="#a6dad1"/>
<rect x="603" y="450.3" width="1" height="7.9" fill="#a6dad1"/>
<rect x="604" y="448.1" width="1" height="8.8" fill="#f8b4b9"/>
<rect x="606" y="449.4" width="1" height="8.4" fill="#a6dad1"/>
<rect x="607" y="449.0" width="1" height="7.1" fill="#f8b4b9"/>
<rect x="608" y="451.1" width="1" height="6.0" fill="#f8b4b9"/>
<rect x="610" y="451.3" width="1" height="6.3" fill="#a6dad1"/>
<rect x="611" y="451.7" width="1" height="5.6" fill="#f8b4b9"/>
<rect x="612" y="451.5" width="1" height="5.1" fill="#a6dad1"/>
<rect x="614" y="449.4" width="1" height="6.8" fill="#f8b4b9"/>
<rect x="615" y="447.2" width="1" height="8.5" fill="#f8b4b9"/>
<rect x="617" y="438.3" width="1" height="9.1" fill="#a6dad1"/>
<rect x="618" y="432.3" width="1" height="9.3" fill="#a6dad1"/>
<rect x="619" y="426.1" width="1" height="8.4" fill="#f8b4b9"/>
<rect x="621" y="418.9" width="1" height="9.5" fill="#f8b4b9"/>
<rect x="622" y="415.6" width="1" height="9.2" fill="#f8b4b9"/>
<rect x="623" y="410.6" width="1" height="14.9" fill="#a6dad1"/>
<rect x="625" y="404.5" width="1" height="15.9" fill="#f8b4b9"/>
<rect x="626" y="403.1" width="1" height="13.7" fill="#f8b4b9"/>
<rect x="627" y="403.1" width="1" height="13.6" fill="#a6dad1"/>
<rect x="629" y="408.6" width="1" height="10.4" fill="#a6dad1"/>
<rect x="630" y="412.4" width="1" height="11.2" fill="#a6dad1"/>
<rect x="631" y="405.8" width="1" height="20.2" fill="#a6dad1"/>
<rect x="633" y="421.9" width="1" height="5.9" fill="#f8b4b9"/>
<rect x="634" y="424.7" width="1" height="5.7" fill="#a6dad1"/>
<rect x="636" y="422.5" width="1" height="7.1" fill="#f8b4b9"/>
<rect x="637" y="412.3" width="1" height="14.5" fill="#f8b4b9"/>
<rect x="638" y="402.3" width="1" height="17.7" fill="#f8b4b9"/>
<rect x="640" y="389.9" width="1" height="15.3" fill="#f8b4b9"/>
<rect x="641" y="383.0" width="1" height="11.2" fill="#a6dad1"/>
<rect x="642" y="380.0" width="1" height="10.8" fill="#a6dad1"/>
<rect x="644" y="364.5" width="1" height="24.4" fill="#a6dad1"/>
<rect x="645" y="370.8" width="1" height="17.9" fill="#a6dad1"/>
<rect x="646" y="380.1" width="1" height="8.1" fill="#a6dad1"/>
<rect x="648" y="384.9" width="1" height="10.2" fill="#a6dad1"/>
<rect x="649" y="394.0" width="1" height="6.4" fill="#f8b4b9"/>
<rect x="651" y="399.4" width="1" height="9.4" fill="#f8b4b9"/>
<rect x="652" y="392.3" width="1" height="13.6" fill="#a6dad1"/>
<rect x="653" y="397.3" width="1" height="9.9" fill="#f8b4b9"/>
<rect x="655" y="395.4" width="1" height="11.2" fill="#f8b4b9"/>
<rect x="656" y="389.7" width="1" height="8.1" fill="#a6dad1"/>
<rect x="657" y="380.2" width="1" height="12.8" fill="#a6dad1"/>
<rect x="659" y="372.5" width="1" height="22.8" fill="#a6dad1"/>
<rect x="660" y="392.7" width="1" height="8.3" fill="#a6dad1"/>
<rect x="661" y="395.1" width="1" height="8.8" fill="#a6dad1"/>
<rect x="663" y="392.7" width="1" height="6.2" fill="#f8b4b9"/>
<rect x="664" y="391.4" width="1" height="9.0" fill="#f8b4b9"/>
<rect x="666" y="390.1" width="1" height="7.6" fill="#f8b4b9"/>
<rect x="667" y="386.4" width="1" height="11.9" fill="#f8b4b9"/>
<rect x="668" y="403.5" width="1" height="11.6" fill="#f8b4b9"/>
<rect x="670" y="412.3" width="1" height="9.1" fill="#a6dad1"/>
<rect x="671" y="413.5" width="1" height="4.3" fill="#a6dad1"/>
<rect x="672" y="409.3" width="1" height="6.8" fill="#a6dad1"/>
<rect x="674" y="408.9" width="1" height="7.6" fill="#f8b4b9"/>
<rect x="675" y="411.6" width="1" height="7.0" fill="#f8b4b9"/>
<rect x="676" y="416.3" width="1" height="9.9" fill="#a6dad1"/>
<rect x="678" y="413.8" width="1" height="10.8" fill="#f8b4b9"/>
<rect x="679" y="415.0" width="1" height="6.7" fill="#a6dad1"/>
<rect x="680" y="413.9" width="1" height="5.9" fill="#f8b4b9"/>
<rect x="682" y="407.6" width="1" height="10.5" fill="#f8b4b9"/>
<rect x="683" y="399.0" width="1" height="10.5" fill="#f8b4b9"/>
<rect x="685" y="398.1" width="1" height="15.8" fill="#f8b4b9"/>
<rect x="686" y="410.1" width="1" height="11.5" fill="#f8b4b9"/>
<rect x="687" y="420.4" width="1" height="6.7" fill="#f8b4b9"/>
<rect x="689" y="421.8" width="1" height="5.3" fill="#f8b4b9"/>
<rect x="690" y="423.3" width="1" height="3.5" fill="#f8b4b9"/>
<rect x="691" y="422.7" width="1" height="7.3" fill="#f8b4b9"/>
<rect x="693" y="423.8" width="1" height="8.7" fill="#f8b4b9"/>
<rect x="694" y="429.2" width="1" height="4.8" fill="#a6dad1"/>
<rect x="695" y="427.4" width="1" height="4.5" fill="#a6dad1"/>
<rect x="697" y="427.0" width="1" height="5.6" fill="#f8b4b9"/>
<rect x="698" y="432.1" width="1" height="16.9" fill="#a6dad1"/>
<rect x="700" y="434.8" width="1" height="10.1" fill="#f8b4b9"/>
<rect x="701" y="431.1" width="1" height="8.7" fill="#f8b4b9"/>
<rect x="702" y="428.9" width="1" height="4.5" fill="#a6dad1"/>
<rect x="704" y="430.0" width="1" height="4.5" fill="#a6dad1"/>
<rect x="705" y="431.7" width="1" height="4.5" fill="#a6dad1"/>
<rect x="706" y="430.1" width="1" height="6.2" fill="#a6dad1"/>
<rect x="708" y="427.2" width="1" height="5.8" fill="#a6dad1"/>
<rect x="709" y="422.5" width="1" height="8.5" fill="#f8b4b9"/>
<rect x="710" y="425.3" width="1" height="4.5" fill="#f8b4b9"/>
<rect x="712" y="427.8" width="1" height="4.6" fill="#a6dad1"/>
<rect x="713" y="425.1" width="1" height="6.8" fill="#a6dad1"/>
<rect x="714" y="422.3" width="1" height="7.9" fill="#a6dad1"/>
<rect x="716" y="423.2" width="1" height="7.5" fill="#a6dad1"/>
<rect x="717" y="425.3" width="1" height="4.7" fill="#a6dad1"/>
<rect x="719" y="413.2" width="1" height="14.6" fill="#a6dad1"/>
<rect x="720" y="408.5" width="1" height="9.6" fill="#a6dad1"/>
<rect x="721" y="404.7" width="1" height="9.2" fill="#a6dad1"/>
<rect x="723" y="400.6" width="1" height="6.2" fill="#a6dad1"/>
<rect x="724" y="391.2" width="1" height="11.5" fill="#f8b4b9"/>
<rect x="725" y="394.1" width="1" height="11.4" fill="#a6dad1"/>
<rect x="727" y="394.8" width="1" height="9.7" fill="#a6dad1"/>
<rect x="728" y="393.5" width="1" height="9.3" fill="#a6dad1"/>
<rect x="729" y="393.7" width="1" height="11.2" fill="#f8b4b9"/>
<rect x="731" y="342.0" width="1" height="61.6" fill="#a6dad1"/>
<rect x="732" y="345.5" width="1" height="51.9" fill="#a6dad1"/>
<rect x="734" y="335.9" width="1" height="24.2" fill="#f8b4b9"/>
<rect x="735" y="334.2" width="1" height="20.0" fill="#a6dad1"/>
<rect x="736" y="337.3" width="1" height="16.5" fill="#a6dad1"/>
<rect x="738" y="335.4" width="1" height="12.1" fill="#a6dad1"/>
<rect x="739" y="327.2" width="1" height="14.1" fill="#f8b4b9"/>
<rect x="740" y="318.0" width="1" height="28.9" fill="#f8b4b9"/>
<rect x="742" y="323.2" width="1" height="45.1" fill="#f8b4b9"/>
<rect x="743" y="347.3" width="1" height="20.5" fill="#f8b4b9"/>
<rect x="744" y="355.5" width="1" height="10.5" fill="#a6dad1"/>
<rect x="746" y="353.5" width="1" height="5.8" fill="#a6dad1"/>
<rect x="747" y="351.8" width="1" height="7.9" fill="#f8b4b9"/>
<rect x="749" y="356.0" width="1" height="10.2" fill="#a6dad1"/>
<rect x="750" y="366.3" width="1" height="5.2" fill="#f8b4b9"/>
<rect x="751" y="370.1" width="1" height="7.7" fill="#f8b4b9"/>
<rect x="0" y="488.8" width="1" height="1.7" fill="#f2818a"/>
<rect x="1" y="488.6" width="1" height="1.7" fill="#f2818a"/>
<rect x="3" y="487.2" width="1" height="3.7" fill="#64bfae"/>
<rect x="4" y="487.8" width="1" height="2.6" fill="#f2818a"/>
<rect x="5" y="488.4" width="1" height="1.9" fill="#f2818a"/>
<rect x="7" y="488.6" width="1" height="2.0" fill="#f2818a"/>
<rect x="8" y="487.8" width="1" height="1.5" fill="#f2818a"/>
<rect x="10" y="488.4" width="1" height="2.0" fill="#64bfae"/>
<rect x="11" y="487.7" width="1" height="3.0" fill="#f2818a"/>
<rect x="12" y="487.7" width="1" height="2.9" fill="#f2818a"/>
<rect x="14" y="487.9" width="1" height="3.0" fill="#64bfae"/>
<rect x="15" y="487.7" width="1" height="3.7" fill="#64bfae"/>
<rect x="16" y="488.2" width="1" height="2.8" fill="#64bfae"/>
<rect x="18" y="487.5" width="1" height="2.6" fill="#64bfae"/>
<rect x="19" y="483.8" width="1" height="5.3" fill="#64bfae"/>
<rect x="20" y="484.6" width="1" height="2.4" fill="#f2818a"/>
<rect x="22" y="482.9" width="1" height="4.9" fill="#64bfae"/>
<rect x="23" y="484.6" width="1" height="2.2" fill="#f2818a"/>
<rect x="24" y="484.0" width="1" height="3.2" fill="#64bfae"/>
<rect x="26" y="483.2" width="1" height="4.3" fill="#64bfae"/>
<rect x="27" y="483.6" width="1" height="3.5" fill="#f2818a"/>
<rect x="29" y="483.5" width="1" height="3.4" fill="#64bfae"/>
<rect x="30" y="483.4" width="1" height="2.9" fill="#64bfae"/>
<rect x="31" y="481.7" width="1" height="4.4" fill="#64bfae"/>
<rect x="33" y="481.1" width="1" height="3.9" fill="#f2818a"/>
<rect x="34" y="480.4" width="1" height="3.4" fill="#f2818a"/>
<rect x="35" y="479.9" width="1" height="3.6" fill="#f2818a"/>
<rect x="37" y="481.8" width="1" height="2.2" fill="#f2818a"/>
<rect x="38" y="480.3" width="1" height="5.3" fill="#64bfae"/>
<rect x="39" y="480.5" width="1" height="3.2" fill="#f2818a"/>
<rect x="41" y="480.1" width="1" height="4.5" fill="#f2818a"/>
<rect x="42" y="476.6" width="1" height="5.7" fill="#f2818a"/>
<rect x="44" y="465.5" width="1" height="7.4" fill="#f2818a"/>
<rect x="45" y="454.6" width="1" height="12.5" fill="#64bfae"/>
<rect x="46" y="445.8" width="1" height="20.1" fill="#64bfae"/>
<rect x="48" y="427.2" width="1" height="21.1" fill="#64bfae"/>
<rect x="49" y="415.6" width="1" height="40.1" fill="#f2818a"/>
<rect x="50" y="352.6" width="1" height="43.1" fill="#64bfae"/>
<rect x="52" y="334.5" width="1" height="26.8" fill="#64bfae"/>
<rect x="53" y="322.4" width="1" height="29.1" fill="#f2818a"/>
<rect x="54" y="321.2" width="1" height="59.8" fill="#64bfae"/>
<rect x="56" y="343.7" width="1" height="30.3" fill="#64bfae"/>
<rect x="57" y="281.1" width="1" height="52.8" fill="#64bfae"/>
<rect x="58" y="218.3" width="1" height="102.9" fill="#f2818a"/>
<rect x="60" y="173.4" width="1" height="44.1" fill="#64bfae"/>
<rect x="61" y="157.2" width="1" height="69.3" fill="#f2818a"/>
<rect x="63" y="151.6" width="1" height="40.6" fill="#64bfae"/>
<rect x="64" y="148.2" width="1" height="32.6" fill="#64bfae"/>
<rect x="65" y="134.8" width="1" height="40.4" fill="#64bfae"/>
<rect x="67" y="154.2" width="1" height="32.7" fill="#f2818a"/>
<rect x="68" y="174.5" width="1" height="22.8" fill="#f2818a"/>
<rect x="69" y="203.3" width="1" height="33.4" fill="#f2818a"/>
<rect x="71" y="228.7" width="1" height="20.6" fill="#f2818a"/>
<rect x="72" y="257.9" width="1" height="33.1" fill="#64bfae"/>
<rect x="73" y="261.8" width="1" height="40.9" fill="#64bfae"/>
<rect x="75" y="242.7" width="1" height="41.2" fill="#64bfae"/>
<rect x="76" y="202.2" width="1" height="42.6" fill="#64bfae"/>
<rect x="78" y="219.5" width="1" height="21.4" fill="#f2818a"/>
<rect x="79" y="208.3" width="1" height="19.9" fill="#f2818a"/>
<rect x="80" y="205.5" width="1" height="24.8" fill="#64bfae"/>
<rect x="82" y="200.6" width="1" height="14.9" fill="#f2818a"/>
<rect x="83" y="204.7" width="1" height="11.8" fill="#64bfae"/>
<rect x="84" y="209.9" width="1" height="12.8" fill="#f2818a"/>
<rect x="86" y="180.6" width="1" height="40.4" fill="#64bfae"/>
<rect x="87" y="197.7" width="1" height="11.6" fill="#f2818a"/>
<rect x="88" y="194.6" width="1" height="20.1" fill="#f2818a"/>
<rect x="90" y="187.9" width="1" height="15.4" fill="#64bfae"/>
<rect x="91" y="203.7" width="1" height="24.7" fill="#f2818a"/>
<rect x="93" y="217.0" width="1" height="20.2" fill="#f2818a"/>
<rect x="94" y="258.1" width="1" height="7.9" fill="#f2818a"/>
<rect x="95" y="255.7" width="1" height="12.2" fill="#64bfae"/>
<rect x="97" y="271.6" width="1" height="9.0" fill="#64bfae"/>
<rect x="98" y="266.7" width="1" height="6.7" fill="#64bfae"/>
<rect x="99" y="248.1" width="1" height="14.1" fill="#64bfae"/>
<rect x="101" y="251.9" width="1" height="11.0" fill="#f2818a"/>
<rect x="102" y="257.9" width="1" height="39.0" fill="#f2818a"/>
<rect x="103" y="291.6" width="1" height="21.9" fill="#f2818a"/>
<rect x="105" y="271.9" width="1" height="17.6" fill="#f2818a"/>
<rect x="106" y="294.9" width="1" height="56.7" fill="#f2818a"/>
<rect x="107" y="318.8" width="1" height="21.7" fill="#f2818a"/>
<rect x="109" y="325.2" width="1" height="11.8" fill="#64bfae"/>
<rect x="110" y="334.9" width="1" height="7.1" fill="#f2818a"/>
<rect x="112" y="339.0" width="1" height="8.7" fill="#64bfae"/>
<rect x="113" y="346.2" width="1" height="5.9" fill="#64bfae"/>
<rect x="114" y="345.6" width="1" height="8.1" fill="#f2818a"/>
<rect x="116" y="335.4" width="1" height="9.2" fill="#64bfae"/>
<rect x="117" y="308.7" width="1" height="15.9" fill="#f2818a"/>
<rect x="118" y="294.8" width="1" height="13.3" fill="#64bfae"/>
<rect x="120" y="297.0" width="1" height="6.0" fill="#64bfae"/>
<rect x="121" y="276.4" width="1" height="12.5" fill="#f2818a"/>
<rect x="122" y="264.7" width="1" height="16.4" fill="#f2818a"/>
<rect x="124" y="273.8" width="1" height="14.8" fill="#f2818a"/>
<rect x="125" y="274.4" width="1" height="10.2" fill="#f2818a"/>
<rect x="127" y="291.3" width="1" height="10.1" fill="#f2818a"/>
<rect x="128" y="291.0" width="1" height="9.2" fill="#f2818a"/>
<rect x="129" y="298.5" width="1" height="10.4" fill="#f2818a"/>
<rect x="131" y="308.5" width="1" height="12.9" fill="#64bfae"/>
<rect x="132" y="314.0" width="1" height="15.9" fill="#f2818a"/>
<rect x="133" y="306.8" width="1" height="16.0" fill="#64bfae"/>
<rect x="135" y="299.3" width="1" height="7.1" fill="#f2818a"/>
<rect x="136" y="266.6" width="1" height="8.1" fill="#f2818a"/>
<rect x="137" y="269.4" width="1" height="10.5" fill="#f2818a"/>
<rect x="139" y="282.3" width="1" height="11.4" fill="#f2818a"/>
<rect x="140" y="282.6" width="1" height="7.5" fill="#f2818a"/>
<rect x="142" y="295.4" width="1" height="5.6" fill="#64bfae"/>
<rect x="143" y="293.3" width="1" height="7.6" fill="#f2818a"/>
<rect x="144" y="297.7" width="1" height="9.5" fill="#f2818a"/>
<rect x="146" y="296.1" width="1" height="2.7" fill="#64bfae"/>
<rect x="147" y="294.1" width="1" height="6.5" fill="#64bfae"/>
<rect x="148" y="286.8" width="1" height="13.3" fill="#64bfae"/>
<rect x="150" y="265.9" width="1" height="14.7" fill="#64bfae"/>
<rect x="151" y="231.8" width="1" height="38.5" fill="#64bfae"/>
<rect x="152" y="237.9" width="1" height="9.8" fill="#64bfae"/>
<rect x="154" y="243.2" width="1" height="9.0" fill="#f2818a"/>
<rect x="155" y="249.9" width="1" height="15.3" fill="#64bfae"/>
<rect x="156" y="257.2" width="1" height="12.3" fill="#64bfae"/>
<rect x="158" y="257.5" width="1" height="16.5" fill="#64bfae"/>
<rect x="159" y="219.6" width="1" height="26.5" fill="#64bfae"/>
<rect x="161" y="224.1" width="1" height="28.7" fill="#64bfae"/>
<rect x="162" y="225.4" width="1" height="14.4" fill="#64bfae"/>
<rect x="163" y="225.0" width="1" height="18.7" fill="#f2818a"/>
<rect x="165" y="217.2" width="1" height="12.9" fill="#64bfae"/>
<rect x="166" y="184.9" width="1" height="23.6" fill="#64bfae"/>
<rect x="167" y="150.7" width="1" height="50.3" fill="#64bfae"/>
<rect x="169" y="124.6" width="1" height="30.2" fill="#f2818a"/>
<rect x="170" y="135.7" width="1" height="25.8" fill="#64bfae"/>
<rect x="171" y="173.1" width="1" height="20.7" fill="#64bfae"/>
<rect x="173" y="177.2" width="1" height="16.6" fill="#64bfae"/>
<rect x="174" y="183.0" width="1" height="9.6" fill="#64bfae"/>
<rect x="176" y="173.6" width="1" height="24.6" fill="#64bfae"/>
<rect x="177" y="175.9" width="1" height="18.5" fill="#f2818a"/>
<rect x="178" y="144.6" width="1" height="26.4" fill="#64bfae"/>
<rect x="180" y="89.0" width="1" height="51.0" fill="#64bfae"/>
<rect x="181" y="108.2" width="1" height="13.2" fill="#f2818a"/>
<rect x="182" y="136.5" width="1" height="24.5" fill="#64bfae"/>
<rect x="184" y="138.8" width="1" height="23.7" fill="#64bfae"/>
<rect x="185" y="155.9" width="1" height="11.8" fill="#f2818a"/>
<rect x="186" y="170.1" width="1" height="42.7" fill="#64bfae"/>
<rect x="188" y="188.9" width="1" height="34.3" fill="#f2818a"/>
<rect x="189" y="194.3" width="1" height="27.9" fill="#f2818a"/>
<rect x="191" y="239.8" width="1" height="18.9" fill="#f2818a"/>
<rect x="192" y="247.4" width="1" height="15.6" fill="#64bfae"/>
<rect x="193" y="254.7" width="1" height="9.9" fill="#64bfae"/>
<rect x="195" y="258.5" width="1" height="6.6" fill="#64bfae"/>
<rect x="196" y="262.7" width="1" height="9.9" fill="#64bfae"/>
<rect x="197" y="292.3" width="1" height="10.8" fill="#f2818a"/>
<rect x="199" y="287.1" width="1" height="18.3" fill="#64bfae"/>
<rect x="200" y="277.6" width="1" height="21.2" fill="#f2818a"/>
<rect x="201" y="281.9" width="1" height="13.1" fill="#f2818a"/>
<rect x="203" y="276.5" width="1" height="25.6" fill="#f2818a"/>
<rect x="204" y="291.7" width="1" height="18.6" fill="#f2818a"/>
<rect x="205" y="299.7" width="1" height="15.8" fill="#64bfae"/>
<rect x="207" y="293.0" width="1" height="10.6" fill="#f2818a"/>
<rect x="208" y="290.7" width="1" height="7.9" fill="#64bfae"/>
<rect x="210" y="292.4" width="1" height="19.6" fill="#f2818a"/>
<rect x="211" y="295.6" width="1" height="12.6" fill="#f2818a"/>
<rect x="212" y="294.5" width="1" height="24.4" fill="#64bfae"/>
<rect x="214" y="295.8" width="1" height="12.6" fill="#64bfae"/>
<rect x="215" y="299.3" width="1" height="12.2" fill="#f2818a"/>
<rect x="216" y="298.5" width="1" height="24.5" fill="#64bfae"/>
<rect x="218" y="306.6" width="1" height="16.9" fill="#f2818a"/>
<rect x="219" y="327.0" width="1" height="18.1" fill="#64bfae"/>
<rect x="220" y="322.0" width="1" height="30.6" fill="#64bfae"/>
<rect x="222" y="329.5" width="1" height="13.9" fill="#64bfae"/>
<rect x="223" y="324.9" width="1" height="22.6" fill="#64bfae"/>
<rect x="225" y="331.5" width="1" height="23.6" fill="#64bfae"/>
<rect x="226" y="332.9" width="1" height="16.7" fill="#64bfae"/>
<rect x="227" y="316.0" width="1" height="15.4" fill="#f2818a"/>
<rect x="229" y="307.8" width="1" height="17.7" fill="#64bfae"/>
<rect x="230" y="308.9" width="1" height="21.5" fill="#f2818a"/>
<rect x="231" y="305.5" width="1" height="23.2" fill="#64bfae"/>
<rect x="233" y="295.6" width="1" height="12.9" fill="#f2818a"/>
<rect x="234" y="296.3" width="1" height="14.1" fill="#64bfae"/>
<rect x="235" y="275.0" width="1" height="27.8" fill="#64bfae"/>
<rect x="237" y="271.5" width="1" height="17.3" fill="#f2818a"/>
<rect x="238" y="261.8" width="1" height="29.7" fill="#64bfae"/>
<rect x="240" y="261.2" width="1" height="20.6" fill="#64bfae"/>
<rect x="241" y="255.0" width="1" height="15.1" fill="#64bfae"/>
<rect x="242" y="257.4" width="1" height="15.5" fill="#f2818a"/>
<rect x="244" y="273.6" width="1" height="17.9" fill="#64bfae"/>
<rect x="245" y="269.2" width="1" height="17.0" fill="#f2818a"/>
<rect x="246" y="278.7" width="1" height="13.0" fill="#f2818a"/>
<rect x="248" y="291.4" width="1" height="11.6" fill="#64bfae"/>
<rect x="249" y="282.3" width="1" height="7.0" fill="#64bfae"/>
<rect x="250" y="276.9" width="1" height="13.4" fill="#64bfae"/>
<rect x="252" y="286.0" width="1" height="17.8" fill="#64bfae"/>
<rect x="253" y="276.8" width="1" height="27.1" fill="#f2818a"/>
<rect x="254" y="286.9" width="1" height="12.7" fill="#f2818a"/>
<rect x="256" y="304.1" width="1" height="8.3" fill="#f2818a"/>
<rect x="257" y="317.5" width="1" height="12.8" fill="#64bfae"/>
<rect x="259" y="331.4" width="1" height="11.0" fill="#64bfae"/>
<rect x="260" y="342.8" width="1" height="15.2" fill="#64bfae"/>
<rect x="261" y="364.5" width="1" height="10.9" fill="#f2818a"/>
<rect x="263" y="353.2" width="1" height="27.5" fill="#64bfae"/>
<rect x="264" y="361.2" width="1" height="11.2" fill="#64bfae"/>
<rect x="265" y="352.8" width="1" height="16.5" fill="#64bfae"/>
<rect x="267" y="359.1" width="1" height="7.6" fill="#64bfae"/>
<rect x="268" y="354.9" width="1" height="5.4" fill="#f2818a"/>
<rect x="269" y="361.7" width="1" height="6.4" fill="#f2818a"/>
<rect x="271" y="360.8" width="1" height="10.8" fill="#64bfae"/>
<rect x="272" y="366.0" width="1" height="10.5" fill="#f2818a"/>
<rect x="274" y="366.3" width="1" height="4.6" fill="#f2818a"/>
<rect x="275" y="364.2" width="1" height="12.0" fill="#f2818a"/>
<rect x="276" y="369.0" width="1" height="8.2" fill="#64bfae"/>
<rect x="278" y="373.5" width="1" height="6.1" fill="#64bfae"/>
<rect x="279" y="372.7" width="1" height="2.4" fill="#64bfae"/>
<rect x="280" y="369.8" width="1" height="5.2" fill="#64bfae"/>
<rect x="282" y="364.2" width="1" height="9.3" fill="#64bfae"/>
<rect x="283" y="355.1" width="1" height="14.0" fill="#64bfae"/>
<rect x="284" y="348.2" width="1" height="15.5" fill="#64bfae"/>
<rect x="286" y="336.6" width="1" height="14.2" fill="#64bfae"/>
<rect x="287" y="321.6" width="1" height="18.2" fill="#f2818a"/>
<rect x="289" y="323.5" width="1" height="12.9" fill="#64bfae"/>
<rect x="290" y="324.0" width="1" height="13.8" fill="#f2818a"/>
<rect x="291" y="326.4" width="1" height="8.5" fill="#64bfae"/>
<rect x="293" y="320.1" width="1" height="12.5" fill="#f2818a"/>
<rect x="294" y="326.0" width="1" height="9.7" fill="#f2818a"/>
<rect x="295" y="327.3" width="1" height="12.4" fill="#f2818a"/>
<rect x="297" y="342.5" width="1" height="14.2" fill="#f2818a"/>
<rect x="298" y="353.8" width="1" height="11.9" fill="#f2818a"/>
<rect x="299" y="359.5" width="1" height="10.6" fill="#f2818a"/>
<rect x="301" y="366.9" width="1" height="6.1" fill="#f2818a"/>
<rect x="302" y="362.5" width="1" height="6.8" fill="#64bfae"/>
<rect x="303" y="367.4" width="1" height="9.6" fill="#f2818a"/>
<rect x="305" y="365.7" width="1" height="7.0" fill="#64bfae"/>
<rect x="306" y="373.5" width="1" height="3.6" fill="#64bfae"/>
<rect x="308" y="366.4" width="1" height="4.9" fill="#64bfae"/>
<rect x="309" y="362.9" width="1" height="5.1" fill="#f2818a"/>
<rect x="310" y="358.4" width="1" height="3.5" fill="#f2818a"/>
<rect x="312" y="358.4" width="1" height="1.9" fill="#f2818a"/>
<rect x="313" y="363.4" width="1" height="2.9" fill="#64bfae"/>
<rect x="314" y="357.3" width="1" height="7.3" fill="#64bfae"/>
<rect x="316" y="356.9" width="1" height="6.9" fill="#64bfae"/>
<rect x="317" y="358.4" width="1" height="4.8" fill="#f2818a"/>
<rect x="318" y="356.7" width="1" height="9.7" fill="#64bfae"/>
<rect x="320" y="362.5" width="1" height="7.5" fill="#64bfae"/>
<rect x="321" y="349.9" width="1" height="18.7" fill="#f2818a"/>
<rect x="323" y="350.1" width="1" height="16.2" fill="#f2818a"/>
<rect x="324" y="348.2" width="1" height="7.4" fill="#64bfae"/>
<rect x="325" y="351.5" width="1" height="3.0" fill="#f2818a"/>
<rect x="327" y="349.0" width="1" height="3.0" fill="#f2818a"/>
<rect x="328" y="349.9" width="1" height="7.5" fill="#64bfae"/>
<rect x="329" y="348.2" width="1" height="4.7" fill="#f2818a"/>
<rect x="331" y="339.9" width="1" height="4.3" fill="#64bfae"/>
<rect x="332" y="340.5" width="1" height="4.6" fill="#64bfae"/>
<rect x="333" y="328.2" width="1" height="6.1" fill="#64bfae"/>
<rect x="335" y="302.4" width="1" height="11.0" fill="#f2818a"/>
<rect x="336" y="297.2" width="1" height="11.2" fill="#64bfae"/>
<rect x="338" y="299.6" width="1" height="14.6" fill="#f2818a"/>
<rect x="339" y="314.3" width="1" height="6.6" fill="#f2818a"/>
<rect x="340" y="318.9" width="1" height="23.6" fill="#64bfae"/>
<rect x="342" y="338.8" width="1" height="8.1" fill="#f2818a"/>
<rect x="343" y="350.3" width="1" height="9.6" fill="#64bfae"/>
<rect x="344" y="347.2" width="1" height="8.8" fill="#64bfae"/>
<rect x="346" y="351.4" width="1" height="3.5" fill="#f2818a"/>
<rect x="347" y="343.4" width="1" height="4.6" fill="#64bfae"/>
<rect x="348" y="337.4" width="1" height="6.3" fill="#f2818a"/>
<rect x="350" y="341.2" width="1" height="7.9" fill="#f2818a"/>
<rect x="351" y="342.3" width="1" height="8.8" fill="#64bfae"/>
<rect x="352" y="350.7" width="1" height="3.5" fill="#f2818a"/>
<rect x="354" y="346.9" width="1" height="3.1" fill="#f2818a"/>
<rect x="355" y="340.5" width="1" height="3.1" fill="#f2818a"/>
<rect x="357" y="344.4" width="1" height="5.7" fill="#f2818a"/>
<rect x="358" y="327.2" width="1" height="13.5" fill="#64bfae"/>
<rect x="359" y="325.3" width="1" height="8.7" fill="#64bfae"/>
<rect x="361" y="327.1" width="1" height="10.7" fill="#64bfae"/>
<rect x="362" y="329.1" width="1" height="9.2" fill="#f2818a"/>
<rect x="363" y="323.6" width="1" height="6.6" fill="#64bfae"/>
<rect x="365" y="315.4" width="1" height="12.8" fill="#f2818a"/>
<rect x="366" y="317.1" width="1" height="6.1" fill="#f2818a"/>
<rect x="367" y="322.4" width="1" height="6.4" fill="#64bfae"/>
<rect x="369" y="329.0" width="1" height="8.5" fill="#64bfae"/>
<rect x="370" y="332.9" width="1" height="10.6" fill="#f2818a"/>
<rect x="372" y="341.6" width="1" height="9.6" fill="#f2818a"/>
<rect x="373" y="342.3" width="1" height="15.3" fill="#64bfae"/>
<rect x="374" y="352.1" width="1" height="4.0" fill="#64bfae"/>
<rect x="376" y="350.1" width="1" height="4.1" fill="#64bfae"/>
<rect x="377" y="347.6" width="1" height="6.7" fill="#64bfae"/>
<rect x="378" y="327.3" width="1" height="3.6" fill="#f2818a"/>
<rect x="380" y="331.8" width="1" height="5.7" fill="#f2818a"/>
<rect x="381" y="336.4" width="1" height="8.0" fill="#64bfae"/>
<rect x="382" y="342.7" width="1" height="6.8" fill="#f2818a"/>
<rect x="384" y="348.9" width="1" height="11.1" fill="#f2818a"/>
<rect x="385" y="361.8" width="1" height="8.2" fill="#64bfae"/>
<rect x="386" y="365.8" width="1" height="4.7" fill="#64bfae"/>
<rect x="388" y="354.9" width="1" height="10.6" fill="#64bfae"/>
<rect x="389" y="336.6" width="1" height="9.5" fill="#64bfae"/>
<rect x="391" y="338.3" width="1" height="6.5" fill="#f2818a"/>
<rect x="392" y="339.4" width="1" height="6.3" fill="#64bfae"/>
<rect x="393" y="303.6" width="1" height="40.5" fill="#64bfae"/>
<rect x="395" y="237.9" width="1" height="29.1" fill="#64bfae"/>
<rect x="396" y="249.5" width="1" height="18.6" fill="#f2818a"/>
<rect x="397" y="258.5" width="1" height="22.1" fill="#64bfae"/>
<rect x="399" y="237.9" width="1" height="44.5" fill="#64bfae"/>
<rect x="400" y="203.3" width="1" height="27.4" fill="#64bfae"/>
<rect x="401" y="196.5" width="1" height="39.1" fill="#64bfae"/>
<rect x="403" y="183.9" width="1" height="19.6" fill="#f2818a"/>
<rect x="404" y="170.5" width="1" height="30.5" fill="#64bfae"/>
<rect x="406" y="177.9" width="1" height="23.0" fill="#f2818a"/>
<rect x="407" y="183.7" width="1" height="14.1" fill="#64bfae"/>
<rect x="408" y="173.2" width="1" height="31.5" fill="#f2818a"/>
<rect x="410" y="176.4" width="1" height="18.6" fill="#f2818a"/>
<rect x="411" y="189.9" width="1" height="9.5" fill="#f2818a"/>
<rect x="412" y="190.0" width="1" height="14.5" fill="#f2818a"/>
<rect x="414" y="202.3" width="1" height="17.9" fill="#64bfae"/>
<rect x="415" y="213.9" width="1" height="28.9" fill="#64bfae"/>
<rect x="416" y="212.9" width="1" height="37.8" fill="#64bfae"/>
<rect x="418" y="225.7" width="1" height="16.3" fill="#64bfae"/>
<rect x="419" y="225.3" width="1" height="11.3" fill="#f2818a"/>
<rect x="421" y="218.6" width="1" height="7.4" fill="#64bfae"/>
<rect x="422" y="223.0" width="1" height="13.0" fill="#f2818a"/>
<rect x="423" y="208.4" width="1" height="21.2" fill="#f2818a"/>
<rect x="425" y="220.3" width="1" height="18.2" fill="#f2818a"/>
<rect x="426" y="226.2" width="1" height="23.6" fill="#f2818a"/>
<rect x="427" y="218.6" width="1" height="12.3" fill="#64bfae"/>
<rect x="429" y="215.0" width="1" height="12.8" fill="#64bfae"/>
<rect x="430" y="212.2" width="1" height="9.0" fill="#f2818a"/>
<rect x="431" y="173.0" width="1" height="29.6" fill="#f2818a"/>
<rect x="433" y="178.7" width="1" height="19.3" fill="#f2818a"/>
<rect x="434" y="173.7" width="1" height="51.1" fill="#64bfae"/>
<rect x="435" y="201.0" width="1" height="37.2" fill="#f2818a"/>
<rect x="437" y="208.6" width="1" height="12.5" fill="#64bfae"/>
<rect x="438" y="198.1" width="1" height="8.4" fill="#f2818a"/>
<rect x="440" y="200.2" width="1" height="11.5" fill="#f2818a"/>
<rect x="441" y="193.2" width="1" height="23.0" fill="#f2818a"/>
<rect x="442" y="216.6" width="1" height="7.9" fill="#64bfae"/>
<rect x="444" y="214.8" width="1" height="18.4" fill="#f2818a"/>
<rect x="445" y="224.9" width="1" height="9.7" fill="#64bfae"/>
<rect x="446" y="238.8" width="1" height="42.4" fill="#64bfae"/>
<rect x="448" y="266.2" width="1" height="28.5" fill="#f2818a"/>
<rect x="449" y="301.2" width="1" height="13.8" fill="#64bfae"/>
<rect x="450" y="292.4" width="1" height="9.9" fill="#f2818a"/>
<rect x="452" y="293.8" width="1" height="8.0" fill="#64bfae"/>
<rect x="453" y="297.8" width="1" height="10.4" fill="#64bfae"/>
<rect x="455" y="290.3" width="1" height="5.7" fill="#64bfae"/>
<rect x="456" y="293.1" width="1" height="4.0" fill="#64bfae"/>
<rect x="457" y="294.2" width="1" height="5.1" fill="#64bfae"/>
<rect x="459" y="288.4" width="1" height="5.6" fill="#f2818a"/>
<rect x="460" y="289.0" width="1" height="7.6" fill="#64bfae"/>
<rect x="461" y="289.6" width="1" height="6.7" fill="#64bfae"/>
<rect x="463" y="287.1" width="1" height="7.9" fill="#64bfae"/>
<rect x="464" y="290.9" width="1" height="8.0" fill="#f2818a"/>
<rect x="465" y="285.2" width="1" height="7.4" fill="#64bfae"/>
<rect x="467" y="280.2" width="1" height="9.9" fill="#64bfae"/>
<rect x="468" y="280.6" width="1" height="9.5" fill="#f2818a"/>
<rect x="470" y="259.1" width="1" height="23.3" fill="#f2818a"/>
<rect x="471" y="260.2" width="1" height="10.0" fill="#f2818a"/>
<rect x="472" y="270.5" width="1" height="11.1" fill="#f2818a"/>
<rect x="474" y="284.6" width="1" height="13.4" fill="#f2818a"/>
<rect x="475" y="298.3" width="1" height="8.9" fill="#64bfae"/>
<rect x="476" y="304.8" width="1" height="11.0" fill="#f2818a"/>
<rect x="478" y="307.5" width="1" height="4.9" fill="#64bfae"/>
<rect x="479" y="307.6" width="1" height="5.1" fill="#64bfae"/>
<rect x="480" y="310.6" width="1" height="4.1" fill="#f2818a"/>
<rect x="482" y="313.6" width="1" height="4.5" fill="#f2818a"/>
<rect x="483" y="311.9" width="1" height="7.6" fill="#64bfae"/>
<rect x="484" y="304.6" width="1" height="12.2" fill="#64bfae"/>
<rect x="486" y="299.3" width="1" height="6.3" fill="#64bfae"/>
<rect x="487" y="282.2" width="1" height="10.8" fill="#64bfae"/>
<rect x="489" y="288.6" width="1" height="12.2" fill="#64bfae"/>
<rect x="490" y="302.7" width="1" height="11.4" fill="#f2818a"/>
<rect x="491" y="328.8" width="1" height="15.5" fill="#f2818a"/>
<rect x="493" y="326.9" width="1" height="20.1" fill="#64bfae"/>
<rect x="494" y="330.6" width="1" height="18.3" fill="#f2818a"/>
<rect x="495" y="342.5" width="1" height="10.9" fill="#64bfae"/>
<rect x="497" y="336.0" width="1" height="17.7" fill="#f2818a"/>
<rect x="498" y="326.3" width="1" height="24.5" fill="#f2818a"/>
<rect x="499" y="358.3" width="1" height="13.5" fill="#f2818a"/>
<rect x="501" y="352.8" width="1" height="10.9" fill="#f2818a"/>
<rect x="502" y="364.5" width="1" height="11.9" fill="#f2818a"/>
<rect x="504" y="363.6" width="1" height="6.4" fill="#f2818a"/>
<rect x="505" y="340.2" width="1" height="20.0" fill="#64bfae"/>
<rect x="506" y="358.7" width="1" height="8.5" fill="#64bfae"/>
<rect x="508" y="354.5" width="1" height="21.2" fill="#f2818a"/>
<rect x="509" y="373.8" width="1" height="13.4" fill="#64bfae"/>
<rect x="510" y="394.0" width="1" height="25.6" fill="#f2818a"/>
<rect x="512" y="392.3" width="1" height="12.3" fill="#f2818a"/>
<rect x="513" y="396.3" width="1" height="6.6" fill="#64bfae"/>
<rect x="514" y="407.5" width="1" height="5.9" fill="#64bfae"/>
<rect x="516" y="405.7" width="1" height="6.5" fill="#f2818a"/>
<rect x="517" y="405.2" width="1" height="6.1" fill="#f2818a"/>
<rect x="519" y="400.0" width="1" height="4.4" fill="#64bfae"/>
<rect x="520" y="401.9" width="1" height="5.1" fill="#f2818a"/>
<rect x="521" y="400.4" width="1" height="4.9" fill="#64bfae"/>
<rect x="523" y="396.8" width="1" height="7.7" fill="#64bfae"/>
<rect x="524" y="393.5" width="1" height="6.6" fill="#64bfae"/>
<rect x="525" y="390.2" width="1" height="7.8" fill="#64bfae"/>
<rect x="527" y="395.4" width="1" height="2.6" fill="#64bfae"/>
<rect x="528" y="401.6" width="1" height="1.8" fill="#64bfae"/>
<rect x="529" y="399.3" width="1" height="5.3" fill="#f2818a"/>
<rect x="531" y="398.8" width="1" height="6.4" fill="#64bfae"/>
<rect x="532" y="390.3" width="1" height="11.8" fill="#f2818a"/>
<rect x="533" y="398.8" width="1" height="3.9" fill="#f2818a"/>
<rect x="535" y="397.0" width="1" height="5.8" fill="#f2818a"/>
<rect x="536" y="398.2" width="1" height="6.9" fill="#f2818a"/>
<rect x="538" y="404.9" width="1" height="3.1" fill="#f2818a"/>
<rect x="539" y="409.0" width="1" height="5.6" fill="#64bfae"/>
<rect x="540" y="410.2" width="1" height="7.0" fill="#64bfae"/>
<rect x="542" y="413.1" width="1" height="9.5" fill="#f2818a"/>
<rect x="543" y="415.2" width="1" height="6.2" fill="#f2818a"/>
<rect x="544" y="417.5" width="1" height="5.6" fill="#f2818a"/>
<rect x="546" y="416.2" width="1" height="7.2" fill="#64bfae"/>
<rect x="547" y="413.9" width="1" height="10.4" fill="#f2818a"/>
<rect x="548" y="413.9" width="1" height="7.2" fill="#f2818a"/>
<rect x="550" y="415.6" width="1" height="6.9" fill="#64bfae"/>
<rect x="551" y="420.7" width="1" height="5.8" fill="#64bfae"/>
<rect x="553" y="422.4" width="1" height="7.6" fill="#f2818a"/>
<rect x="554" y="427.3" width="1" height="7.5" fill="#f2818a"/>
<rect x="555" y="429.4" width="1" height="9.1" fill="#64bfae"/>
<rect x="557" y="431.3" width="1" height="14.1" fill="#f2818a"/>
<rect x="558" y="433.2" width="1" height="16.0" fill="#64bfae"/>
<rect x="559" y="440.3" width="1" height="11.2" fill="#64bfae"/>
<rect x="561" y="444.2" width="1" height="4.6" fill="#64bfae"/>
<rect x="562" y="444.9" width="1" height="2.4" fill="#f2818a"/>
<rect x="563" y="444.8" width="1" height="4.8" fill="#f2818a"/>
<rect x="565" y="444.9" width="1" height="3.8" fill="#64bfae"/>
<rect x="566" y="447.1" width="1" height="1.7" fill="#64bfae"/>
<rect x="568" y="445.3" width="1" height="3.0" fill="#64bfae"/>
<rect x="569" y="443.8" width="1" height="3.7" fill="#f2818a"/>
<rect x="570" y="442.9" width="1" height="3.5" fill="#64bfae"/>
<rect x="572" y="444.3" width="1" height="2.4" fill="#64bfae"/>
<rect x="573" y="443.3" width="1" height="2.0" fill="#64bfae"/>
<rect x="574" y="443.3" width="1" height="2.5" fill="#64bfae"/>
<rect x="576" y="438.6" width="1" height="5.4" fill="#64bfae"/>
<rect x="577" y="438.0" width="1" height="2.6" fill="#f2818a"/>
<rect x="578" y="433.5" width="1" height="4.8" fill="#f2818a"/>
<rect x="580" y="431.8" width="1" height="5.4" fill="#f2818a"/>
<rect x="581" y="435.6" width="1" height="7.7" fill="#f2818a"/>
<rect x="582" y="439.7" width="1" height="6.1" fill="#f2818a"/>
<rect x="584" y="447.8" width="1" height="3.4" fill="#f2818a"/>
<rect x="585" y="448.7" width="1" height="5.5" fill="#f2818a"/>
<rect x="587" y="448.6" width="1" height="4.6" fill="#f2818a"/>
<rect x="588" y="450.8" width="1" height="6.3" fill="#f2818a"/>
<rect x="589" y="450.8" width="1" height="6.5" fill="#64bfae"/>
<rect x="591" y="451.8" width="1" height="6.6" fill="#f2818a"/>
<rect x="592" y="457.1" width="1" height="3.7" fill="#64bfae"/>
<rect x="593" y="458.3" width="1" height="4.4" fill="#64bfae"/>
<rect x="595" y="458.3" width="1" height="5.3" fill="#f2818a"/>
<rect x="596" y="455.1" width="1" height="8.9" fill="#64bfae"/>
<rect x="597" y="453.7" width="1" height="9.0" fill="#f2818a"/>
<rect x="599" y="452.0" width="1" height="9.7" fill="#64bfae"/>
<rect x="600" y="450.8" width="1" height="7.8" fill="#64bfae"/>
<rect x="602" y="450.0" width="1" height="4.6" fill="#64bfae"/>
<rect x="603" y="451.6" width="1" height="4.6" fill="#64bfae"/>
<rect x="604" y="448.8" width="1" height="7.3" fill="#f2818a"/>
<rect x="606" y="450.8" width="1" height="6.9" fill="#64bfae"/>
<rect x="607" y="451.1" width="1" height="3.6" fill="#f2818a"/>
<rect x="608" y="452.3" width="1" height="2.8" fill="#f2818a"/>
<rect x="610" y="452.0" width="1" height="4.9" fill="#64bfae"/>
<rect x="611" y="452.2" width="1" height="3.0" fill="#f2818a"/>
<rect x="612" y="453.1" width="1" height="2.1" fill="#64bfae"/>
<rect x="614" y="452.7" width="1" height="2.8" fill="#f2818a"/>
<rect x="615" y="448.2" width="1" height="4.2" fill="#f2818a"/>
<rect x="617" y="442.0" width="1" height="3.9" fill="#64bfae"/>
<rect x="618" y="434.7" width="1" height="3.8" fill="#64bfae"/>
<rect x="619" y="429.0" width="1" height="4.4" fill="#f2818a"/>
<rect x="621" y="419.7" width="1" height="7.9" fill="#f2818a"/>
<rect x="622" y="416.3" width="1" height="6.5" fill="#f2818a"/>
<rect x="623" y="415.4" width="1" height="7.1" fill="#64bfae"/>
<rect x="625" y="407.9" width="1" height="9.7" fill="#f2818a"/>
<rect x="626" y="405.6" width="1" height="9.3" fill="#f2818a"/>
<rect x="627" y="409.6" width="1" height="6.0" fill="#64bfae"/>
<rect x="629" y="409.9" width="1" height="6.6" fill="#64bfae"/>
<rect x="630" y="413.7" width="1" height="5.7" fill="#64bfae"/>
<rect x="631" y="414.0" width="1" height="11.1" fill="#64bfae"/>
<rect x="633" y="422.8" width="1" height="2.5" fill="#f2818a"/>
<rect x="634" y="425.8" width="1" height="3.0" fill="#64bfae"/>
<rect x="636" y="423.0" width="1" height="5.5" fill="#f2818a"/>
<rect x="637" y="414.3" width="1" height="11.7" fill="#f2818a"/>
<rect x="638" y="404.3" width="1" height="7.6" fill="#f2818a"/>
<rect x="640" y="394.8" width="1" height="7.7" fill="#f2818a"/>
<rect x="641" y="383.8" width="1" height="7.9" fill="#64bfae"/>
<rect x="642" y="385.8" width="1" height="3.8" fill="#64bfae"/>
<rect x="644" y="372.5" width="1" height="14.8" fill="#64bfae"/>
<rect x="645" y="371.8" width="1" height="13.3" fill="#64bfae"/>
<rect x="646" y="381.0" width="1" height="5.6" fill="#64bfae"/>
<rect x="648" y="390.7" width="1" height="4.0" fill="#64bfae"/>
<rect x="649" y="395.5" width="1" height="4.6" fill="#f2818a"/>
<rect x="651" y="400.6" width="1" height="6.6" fill="#f2818a"/>
<rect x="652" y="392.5" width="1" height="10.0" fill="#64bfae"/>
<rect x="653" y="400.9" width="1" height="6.2" fill="#f2818a"/>
<rect x="655" y="397.9" width="1" height="4.2" fill="#f2818a"/>
<rect x="656" y="393.1" width="1" height="3.4" fill="#64bfae"/>
<rect x="657" y="382.4" width="1" height="7.8" fill="#64bfae"/>
<rect x="659" y="381.6" width="1" height="11.1" fill="#64bfae"/>
<rect x="660" y="395.0" width="1" height="5.2" fill="#64bfae"/>
<rect x="661" y="397.9" width="1" height="5.1" fill="#64bfae"/>
<rect x="663" y="393.3" width="1" height="3.3" fill="#f2818a"/>
<rect x="664" y="392.6" width="1" height="6.3" fill="#f2818a"/>
<rect x="666" y="390.7" width="1" height="4.0" fill="#f2818a"/>
<rect x="667" y="386.6" width="1" height="8.6" fill="#f2818a"/>
<rect x="668" y="406.9" width="1" height="4.7" fill="#f2818a"/>
<rect x="670" y="417.7" width="1" height="3.2" fill="#64bfae"/>
<rect x="671" y="413.8" width="1" height="2.9" fill="#64bfae"/>
<rect x="672" y="410.8" width="1" height="5.0" fill="#64bfae"/>
<rect x="674" y="410.5" width="1" height="5.9" fill="#f2818a"/>
<rect x="675" y="412.2" width="1" height="5.1" fill="#f2818a"/>
<rect x="676" y="418.8" width="1" height="5.3" fill="#64bfae"/>
<rect x="678" y="417.6" width="1" height="4.0" fill="#f2818a"/>
<rect x="679" y="416.3" width="1" height="5.4" fill="#64bfae"/>
<rect x="680" y="415.6" width="1" height="3.0" fill="#f2818a"/>
<rect x="682" y="412.0" width="1" height="6.0" fill="#f2818a"/>
<rect x="683" y="403.5" width="1" height="4.5" fill="#f2818a"/>
<rect x="685" y="399.9" width="1" height="11.8" fill="#f2818a"/>
<rect x="686" y="411.8" width="1" height="6.5" fill="#f2818a"/>
<rect x="687" y="420.7" width="1" height="5.4" fill="#f2818a"/>
<rect x="689" y="422.3" width="1" height="2.8" fill="#f2818a"/>
<rect x="690" y="423.8" width="1" height="2.9" fill="#f2818a"/>
<rect x="691" y="424.7" width="1" height="4.8" fill="#f2818a"/>
<rect x="693" y="426.3" width="1" height="4.3" fill="#f2818a"/>
<rect x="694" y="430.1" width="1" height="2.4" fill="#64bfae"/>
<rect x="695" y="428.1" width="1" height="3.1" fill="#64bfae"/>
<rect x="697" y="427.8" width="1" height="3.6" fill="#f2818a"/>
<rect x="698" y="433.4" width="1" height="4.9" fill="#64bfae"/>
<rect x="700" y="435.3" width="1" height="7.9" fill="#f2818a"/>
<rect x="701" y="433.1" width="1" height="5.1" fill="#f2818a"/>
<rect x="702" y="429.9" width="1" height="2.7" fill="#64bfae"/>
<rect x="704" y="431.7" width="1" height="2.6" fill="#64bfae"/>
<rect x="705" y="434.3" width="1" height="1.8" fill="#64bfae"/>
<rect x="706" y="430.6" width="1" height="3.4" fill="#64bfae"/>
<rect x="708" y="429.8" width="1" height="2.4" fill="#64bfae"/>
<rect x="709" y="425.7" width="1" height="3.0" fill="#f2818a"/>
<rect x="710" y="427.1" width="1" height="2.6" fill="#f2818a"/>
<rect x="712" y="428.6" width="1" height="3.7" fill="#64bfae"/>
<rect x="713" y="426.4" width="1" height="5.0" fill="#64bfae"/>
<rect x="714" y="424.4" width="1" height="5.6" fill="#64bfae"/>
<rect x="716" y="425.7" width="1" height="3.0" fill="#64bfae"/>
<rect x="717" y="425.6" width="1" height="3.2" fill="#64bfae"/>
<rect x="719" y="413.8" width="1" height="9.4" fill="#64bfae"/>
<rect x="720" y="411.5" width="1" height="4.2" fill="#64bfae"/>
<rect x="721" y="409.4" width="1" height="3.9" fill="#64bfae"/>
<rect x="723" y="400.6" width="1" height="5.1" fill="#64bfae"/>
<rect x="724" y="393.1" width="1" height="9.0" fill="#f2818a"/>
<rect x="725" y="395.4" width="1" height="7.9" fill="#64bfae"/>
<rect x="727" y="398.7" width="1" height="5.3" fill="#64bfae"/>
<rect x="728" y="398.0" width="1" height="4.3" fill="#64bfae"/>
<rect x="729" y="396.1" width="1" height="5.9" fill="#f2818a"/>
<rect x="731" y="395.6" width="1" height="4.5" fill="#64bfae"/>
<rect x="732" y="345.9" width="1" height="43.8" fill="#64bfae"/>
<rect x="734" y="342.1" width="1" height="11.8" fill="#f2818a"/>
<rect x="735" y="337.7" width="1" height="16.6" fill="#64bfae"/>
<rect x="736" y="340.0" width="1" height="13.0" fill="#64bfae"/>
<rect x="738" y="340.3" width="1" height="6.0" fill="#64bfae"/>
<rect x="739" y="332.6" width="1" height="7.1" fill="#f2818a"/>
<rect x="740" y="333.6" width="1" height="9.5" fill="#f2818a"/>
<rect x="742" y="345.0" width="1" height="23.0" fill="#f2818a"/>
<rect x="743" y="351.2" width="1" height="9.6" fill="#f2818a"/>
<rect x="744" y="357.5" width="1" height="6.1" fill="#64bfae"/>
<rect x="746" y="354.5" width="1" height="2.2" fill="#64bfae"/>
<rect x="747" y="352.3" width="1" height="6.4" fill="#f2818a"/>
<rect x="749" y="359.3" width="1" height="4.5" fill="#64bfae"/>
<rect x="750" y="368.3" width="1" height="2.9" fill="#f2818a"/>
<rect x="751" y="371.1" width="1" height="3.8" fill="#f2818a"/>
<path d="M0.0,490.0 C7.5,489.8 36.7,489.2 45.0,488.5 C53.3,487.8 48.3,486.9 50.0,485.7 C51.7,484.5 53.3,483.5 55.0,481.5 C56.7,479.5 58.3,477.5 60.0,473.9 C61.7,470.3 63.3,464.1 65.0,460.0 C66.7,455.9 67.4,453.3 70.0,449.0 C72.6,444.7 77.0,438.8 80.5,434.0 C84.0,429.2 87.8,424.1 91.0,420.0 C94.2,415.9 97.6,412.1 100.0,409.4 C102.4,406.7 102.7,405.6 105.5,404.0 C108.3,402.4 112.5,402.3 116.7,400.0 C120.9,397.7 125.0,394.0 130.5,390.0 C136.1,386.0 144.0,380.7 150.0,376.0 C156.0,371.3 161.7,367.3 166.7,362.0 C171.7,356.7 175.3,349.5 180.0,344.0 C184.7,338.5 189.2,332.2 195.0,329.0 C200.8,325.8 208.8,325.5 215.0,325.0 C221.2,324.5 228.3,326.3 232.5,326.0 C236.7,325.7 236.8,324.2 240.0,323.3 C243.2,322.4 248.4,321.0 251.7,320.5 C254.9,320.0 256.9,320.0 259.5,320.5 C262.1,321.0 264.1,322.2 267.3,323.3 C270.6,324.4 275.7,326.4 279.0,327.2 C282.3,328.0 283.6,328.0 286.9,328.4 C290.2,328.8 294.8,329.1 298.6,329.5 C302.5,329.9 304.8,329.9 310.0,331.0 C315.2,332.1 325.0,335.3 330.0,336.0 C335.0,336.7 334.2,335.0 340.0,335.0 C345.8,335.0 356.7,335.6 365.0,336.0 C373.3,336.4 383.6,338.3 390.0,337.5 C396.4,336.7 399.2,333.8 403.2,331.0 C407.2,328.2 409.8,324.4 414.0,320.9 C418.2,317.4 423.7,313.6 428.6,310.2 C433.5,306.8 440.0,302.2 443.2,300.4 C446.4,298.6 445.2,299.6 448.0,299.4 C450.8,299.2 456.3,299.2 460.0,299.0 C463.7,298.8 467.7,298.6 470.0,298.4 C472.3,298.2 471.4,297.6 474.0,297.6 C476.6,297.6 482.4,297.9 485.6,298.4 C488.8,298.8 490.8,299.5 493.4,300.3 C496.0,301.1 498.6,301.9 501.2,303.0 C503.9,304.1 506.4,305.2 509.0,306.6 C511.6,308.0 514.3,309.7 516.9,311.2 C519.5,312.8 521.2,313.7 524.7,316.0 C528.2,318.3 534.6,322.7 538.0,325.0 C541.4,327.3 542.5,328.1 545.3,330.0 C548.1,331.9 551.8,334.2 554.7,336.2 C557.6,338.3 559.9,340.5 562.5,342.5 C565.1,344.5 567.4,345.9 570.3,348.0 C573.2,350.1 574.7,351.3 580.0,355.0 C585.3,358.7 596.2,366.3 602.0,370.0 C607.8,373.7 610.6,375.2 614.7,377.0 C618.8,378.8 622.8,379.8 626.4,381.0 C630.0,382.2 633.0,383.9 636.6,384.5 C640.2,385.1 643.9,384.5 647.7,384.6 C651.5,384.8 655.5,385.0 659.4,385.4 C663.3,385.8 667.3,386.4 671.2,387.0 C675.1,387.6 679.0,388.4 682.9,389.3 C686.8,390.2 690.7,391.4 694.6,392.4 C698.5,393.4 702.7,394.7 706.3,395.5 C709.9,396.3 713.3,396.9 716.0,397.3 C718.7,397.7 720.1,398.0 722.7,398.0 C725.3,398.0 728.6,398.1 731.6,397.5 C734.6,396.9 737.6,395.3 741.0,394.4 C744.4,393.5 750.2,392.4 752.0,392.0" fill="none" stroke="#6b6bf5" stroke-width="1" stroke-opacity="1" stroke-linejoin="round"/>
<path d="M0.0,487.0 C7.5,486.6 36.7,485.3 45.0,484.3 C53.3,483.3 48.3,482.5 50.0,480.8 C51.7,479.1 53.0,479.2 55.0,473.9 C57.0,468.6 59.5,458.0 62.0,449.0 C64.5,440.0 67.0,429.0 70.0,420.0 C73.0,411.0 76.9,402.5 80.0,395.0 C83.1,387.5 86.3,380.7 88.8,375.0 C91.2,369.3 92.7,364.7 94.7,361.0 C96.7,357.3 99.3,354.9 101.0,352.7 C102.7,350.5 103.2,348.9 104.8,348.0 C106.3,347.1 107.8,347.9 110.3,347.3 C112.8,346.7 116.3,346.4 120.0,344.5 C123.7,342.6 128.5,338.4 132.5,336.0 C136.5,333.6 140.1,332.4 143.8,330.0 C147.4,327.6 150.9,325.3 154.7,321.7 C158.5,318.1 162.5,314.1 166.4,308.4 C170.3,302.7 175.7,291.5 178.0,287.3 C180.3,283.1 177.7,286.2 180.0,283.0 C182.3,279.8 187.9,269.7 191.8,268.0 C195.7,266.3 199.3,270.9 203.6,272.6 C207.9,274.4 213.3,275.8 217.8,278.5 C222.3,281.2 227.1,287.2 230.8,289.0 C234.5,290.8 237.4,289.3 240.0,289.0 C242.6,288.7 243.9,287.4 246.2,287.3 C248.6,287.2 251.4,287.3 254.0,288.5 C256.6,289.7 259.3,292.2 261.9,294.4 C264.5,296.5 267.1,299.1 269.7,301.4 C272.3,303.7 274.9,306.0 277.5,308.4 C280.1,310.8 282.4,314.3 285.3,315.9 C288.2,317.5 291.6,316.4 294.7,317.8 C297.8,319.2 300.6,322.0 304.0,324.0 C307.4,326.0 310.7,328.2 315.0,330.0 C319.3,331.8 323.8,334.0 330.0,335.0 C336.2,336.0 345.0,335.7 352.5,336.0 C360.0,336.3 368.3,337.0 375.0,337.0 C381.7,337.0 388.3,337.0 392.5,336.0 C396.7,335.0 397.9,334.3 400.3,331.0 C402.7,327.7 404.8,320.0 407.1,316.0 C409.4,312.0 410.4,311.4 414.0,307.2 C417.6,303.0 423.7,296.0 428.6,290.6 C433.5,285.2 439.6,277.4 443.2,275.0 C446.8,272.6 447.6,275.7 450.0,276.0 C452.4,276.3 453.8,276.5 457.5,277.0 C461.2,277.5 470.0,278.7 472.5,279.0 C475.0,279.3 471.9,278.8 472.5,279.0 C473.1,279.2 474.1,279.2 476.2,280.0 C478.4,280.8 483.0,282.8 485.6,284.0 C488.2,285.2 489.9,285.6 491.9,287.0 C493.8,288.4 495.1,290.3 497.3,292.5 C499.5,294.7 502.6,297.7 505.2,300.3 C507.8,302.9 509.8,303.9 513.0,308.0 C516.2,312.1 521.8,321.3 524.7,325.0 C527.6,328.7 528.4,328.0 530.5,330.0 C532.6,332.0 535.2,334.5 537.5,337.0 C539.8,339.5 541.6,341.7 544.5,344.8 C547.4,347.9 551.7,352.5 554.7,355.8 C557.7,359.1 559.1,360.5 562.5,364.4 C565.9,368.3 571.4,375.9 574.8,379.4 C578.2,382.9 580.0,383.3 582.7,385.6 C585.4,387.9 588.5,390.8 591.2,393.4 C594.0,396.0 596.4,399.0 599.0,401.2 C601.6,403.5 604.3,405.0 606.9,406.7 C609.5,408.4 612.1,410.2 614.7,411.4 C617.3,412.6 619.9,413.2 622.5,413.8 C625.1,414.3 627.7,414.2 630.3,414.5 C632.9,414.8 635.0,415.8 638.0,415.5 C641.0,415.2 645.0,413.4 648.0,412.5 C651.0,411.6 652.7,410.7 656.0,410.0 C659.3,409.3 664.7,408.5 668.0,408.3 C671.3,408.1 673.2,408.5 675.8,408.7 C678.4,408.9 681.0,409.2 683.6,409.5 C686.2,409.8 688.8,410.0 691.4,410.6 C694.0,411.2 696.6,412.5 699.2,413.4 C701.9,414.2 704.4,415.0 707.0,415.7 C709.6,416.4 712.3,417.2 714.9,417.3 C717.5,417.4 720.1,416.8 722.7,416.1 C725.3,415.4 727.9,414.7 730.5,413.0 C733.1,411.3 735.7,408.0 738.3,406.0 C740.9,404.0 743.7,402.4 746.0,401.2 C748.3,400.1 751.0,399.4 752.0,399.0" fill="none" stroke="#5ef2f7" stroke-width="1" stroke-opacity="1" stroke-linejoin="round"/>
<path d="M0.0,485.3 C6.7,485.4 32.3,486.1 40.0,485.7 C47.7,485.3 44.3,484.4 46.0,483.0 C47.7,481.6 49.0,478.9 50.0,477.4 C51.0,475.9 51.0,478.6 52.0,474.0 C53.0,469.4 54.4,459.0 56.0,450.0 C57.6,441.0 59.3,432.5 61.4,420.0 C63.5,407.5 66.8,384.4 68.4,375.0 C70.0,365.6 69.7,368.5 71.2,363.6 C72.8,358.7 75.7,351.2 77.5,345.6 C79.3,340.0 80.6,335.1 82.2,330.0 C83.8,324.9 85.5,319.5 86.9,314.7 C88.3,309.9 89.5,304.4 90.8,301.4 C92.1,298.4 93.2,298.3 94.7,296.7 C96.2,295.1 98.3,293.1 100.0,291.6 C101.7,290.2 103.4,287.9 104.7,288.0 C106.0,288.1 106.0,289.6 107.8,292.0 C109.6,294.4 113.6,300.6 115.6,302.2 C117.5,303.8 117.8,302.2 119.5,301.8 C121.2,301.4 123.6,299.6 125.8,299.5 C128.0,299.4 131.0,301.5 132.8,301.4 C134.6,301.3 134.3,299.4 136.7,299.0 C139.0,298.6 144.6,299.4 146.9,299.0 C149.2,298.6 149.1,298.1 150.8,296.7 C152.5,295.3 155.3,292.4 157.0,290.5 C158.7,288.6 159.4,287.7 161.0,285.0 C162.6,282.3 165.0,278.0 166.4,274.4 C167.8,270.8 168.1,266.9 169.5,263.4 C170.9,259.9 173.2,257.2 175.0,253.3 C176.8,249.4 178.9,243.1 180.0,240.0 C181.1,236.9 180.3,237.6 181.6,235.0 C182.9,232.4 185.7,225.0 187.8,224.4 C189.9,223.8 191.6,227.2 194.2,231.3 C196.8,235.4 199.9,243.3 203.6,249.0 C207.3,254.7 213.0,260.5 216.6,265.6 C220.2,270.7 222.3,275.6 224.9,279.7 C227.5,283.8 228.8,289.2 232.0,290.4 C235.2,291.6 241.4,287.5 244.0,287.0 C246.6,286.5 246.1,287.1 247.8,287.3 C249.5,287.6 252.2,287.6 254.0,288.5 C255.8,289.4 257.2,290.5 258.8,292.8 C260.3,295.1 261.6,298.9 263.4,302.2 C265.2,305.4 267.9,309.4 269.7,312.3 C271.5,315.2 272.8,317.0 274.4,319.4 C275.9,321.8 277.8,324.6 279.0,326.4 C280.2,328.2 280.3,328.9 281.4,330.0 C282.4,331.1 283.1,332.5 285.3,333.0 C287.5,333.5 292.1,332.2 294.7,333.0 C297.3,333.8 298.8,335.8 301.0,337.8 C303.2,339.8 305.8,343.2 308.0,344.8 C310.2,346.4 312.2,346.4 314.2,347.2 C316.2,348.0 317.7,349.2 320.0,349.8 C322.3,350.4 325.5,351.1 327.8,351.0 C330.1,350.9 332.2,350.6 334.0,349.5 C335.8,348.4 337.2,345.3 338.8,344.5 C340.3,343.7 341.1,344.2 343.4,344.5 C345.7,344.8 350.6,346.1 352.8,346.4 C355.0,346.6 355.4,346.6 356.7,346.0 C358.0,345.4 358.4,343.5 360.6,342.5 C362.8,341.5 366.4,340.2 370.0,340.0 C373.6,339.8 379.6,340.2 382.5,341.0 C385.4,341.8 385.5,343.9 387.2,344.5 C388.9,345.1 391.1,345.6 392.6,344.5 C394.1,343.4 394.9,340.2 396.0,338.0 C397.1,335.8 397.8,336.1 399.3,331.0 C400.8,325.9 403.6,313.3 405.2,307.2 C406.8,301.1 407.5,298.2 409.0,294.5 C410.5,290.8 412.0,288.1 414.0,284.8 C416.0,281.6 418.9,277.9 420.8,275.0 C422.7,272.1 424.0,269.8 425.6,267.5 C427.2,265.2 429.0,263.3 430.3,261.2 C431.6,259.2 432.3,256.4 433.4,255.0 C434.4,253.6 435.3,254.1 436.6,252.7 C437.9,251.3 439.9,247.8 441.2,246.4 C442.6,245.0 443.4,244.5 444.4,244.5 C445.4,244.5 446.2,244.8 447.5,246.4 C448.8,248.0 450.6,252.0 452.2,254.2 C453.8,256.4 454.8,257.6 456.9,259.7 C459.0,261.8 462.5,265.0 465.0,266.7 C467.5,268.4 469.5,268.6 472.0,270.0 C474.5,271.4 478.0,273.3 480.0,275.0 C482.0,276.7 482.5,278.5 484.0,280.0 C485.5,281.5 487.2,282.6 488.8,284.0 C490.3,285.4 492.0,286.7 493.4,288.6 C494.8,290.5 495.7,292.7 497.3,295.6 C498.9,298.5 501.1,302.7 502.8,305.8 C504.5,308.9 505.8,311.2 507.5,314.4 C509.2,317.6 511.6,322.4 513.0,325.0 C514.4,327.6 514.4,327.5 515.6,330.0 C516.8,332.5 518.3,336.4 520.3,340.0 C522.2,343.6 524.8,348.1 527.3,351.9 C529.8,355.7 533.0,359.8 535.2,362.8 C537.4,365.8 538.5,367.5 540.5,370.0 C542.5,372.5 545.0,374.6 547.5,377.8 C550.0,381.1 553.1,386.0 555.3,389.5 C557.5,393.0 558.6,395.9 560.8,398.9 C563.0,401.9 566.3,404.8 568.6,407.5 C570.9,410.2 572.7,413.1 574.8,415.0 C576.9,416.9 579.0,417.2 581.1,418.6 C583.2,420.0 584.9,421.2 587.3,423.3 C589.6,425.4 592.6,428.8 595.2,431.0 C597.8,433.2 600.4,435.2 603.0,436.6 C605.6,438.1 608.5,439.0 610.8,439.7 C613.1,440.4 615.0,441.0 617.0,440.9 C619.0,440.8 620.5,440.1 622.5,439.0 C624.5,437.9 626.7,435.4 628.8,434.2 C630.8,433.0 633.1,432.7 635.0,431.9 C636.9,431.1 637.8,431.5 640.0,429.5 C642.2,427.5 645.3,422.5 648.0,420.0 C650.7,417.5 653.7,416.1 656.0,414.6 C658.3,413.1 660.0,411.8 662.0,411.0 C664.0,410.2 665.7,409.7 668.0,409.8 C670.3,409.9 673.2,411.5 675.8,411.8 C678.4,412.1 681.0,410.8 683.6,411.4 C686.2,412.0 688.8,414.0 691.4,415.3 C694.0,416.6 696.6,418.1 699.2,419.2 C701.9,420.2 704.7,421.1 707.0,421.6 C709.3,422.1 711.3,422.2 713.3,422.3 C715.3,422.4 717.0,422.5 718.8,422.0 C720.6,421.5 722.3,420.4 724.2,419.2 C726.2,417.9 728.5,416.6 730.5,414.5 C732.5,412.4 734.3,409.3 736.0,406.7 C737.7,404.1 739.3,400.8 740.6,398.9 C741.9,396.9 741.9,396.6 743.8,395.0 C745.7,393.4 750.6,390.0 752.0,389.0" fill="none" stroke="#ffaa66" stroke-width="1" stroke-opacity="1" stroke-linejoin="round"/>
<path d="M0.0,486.5 C5.0,486.7 23.0,487.9 30.0,487.5 C37.0,487.1 39.2,486.0 42.0,484.0 C44.8,482.0 45.7,479.3 47.0,475.3 C48.3,471.3 49.0,465.9 50.0,460.0 C51.0,454.1 52.0,446.7 53.0,440.0 C54.0,433.3 55.5,424.3 56.3,420.0 C57.0,415.7 56.8,421.5 57.5,414.0 C58.2,406.5 59.6,389.0 60.6,375.0 C61.6,361.0 62.4,343.7 63.4,330.0 C64.4,316.3 65.8,300.3 66.6,292.8 C67.4,285.3 67.2,288.1 68.0,285.0 C68.8,281.9 70.4,275.9 71.2,274.4 C72.1,272.9 72.5,276.8 73.2,276.0 C73.9,275.2 74.0,273.1 75.2,269.7 C76.4,266.3 79.2,259.1 80.6,255.6 C82.0,252.1 82.8,250.9 83.8,248.6 C84.7,246.3 84.8,244.9 86.0,242.0 C87.2,239.1 89.6,231.8 91.2,231.0 C92.8,230.2 94.0,234.6 95.5,237.0 C97.0,239.4 98.9,243.7 100.0,245.5 C101.1,247.3 101.4,246.4 102.3,247.8 C103.2,249.2 104.6,251.4 105.5,254.0 C106.4,256.6 106.8,258.2 107.8,263.4 C108.8,268.6 110.4,278.8 111.7,285.0 C113.0,291.2 114.4,297.8 115.6,300.6 C116.8,303.4 117.7,302.3 118.8,301.8 C119.8,301.3 120.7,298.7 121.9,297.5 C123.1,296.3 124.5,294.5 125.8,294.4 C127.1,294.3 128.4,295.5 129.7,296.7 C131.0,297.9 132.5,301.3 133.6,301.4 C134.7,301.5 135.1,298.3 136.0,297.5 C136.9,296.7 137.7,296.7 139.0,296.7 C140.3,296.7 142.3,297.1 143.8,297.5 C145.2,297.9 146.7,299.4 147.7,299.0 C148.7,298.6 148.9,297.3 150.0,295.0 C151.1,292.7 152.7,287.8 154.0,285.0 C155.3,282.2 156.9,280.3 157.8,278.3 C158.7,276.3 158.6,275.0 159.4,272.8 C160.2,270.6 161.3,267.9 162.5,265.0 C163.7,262.1 165.5,259.0 166.4,255.6 C167.3,252.2 167.6,248.1 168.0,244.7 C168.4,241.3 168.3,238.7 169.0,235.0 C169.7,231.3 171.1,225.5 172.2,222.8 C173.2,220.1 174.5,220.5 175.3,218.9 C176.1,217.3 176.2,216.7 177.0,213.4 C177.8,210.2 179.1,203.3 180.0,199.4 C180.9,195.5 181.3,193.0 182.3,190.0 C183.3,187.0 184.8,181.2 186.0,181.5 C187.2,181.8 188.3,188.2 189.4,191.6 C190.5,195.0 191.5,198.1 192.5,201.7 C193.5,205.3 194.5,207.7 195.6,213.4 C196.7,219.1 197.7,228.9 199.0,236.0 C200.3,243.1 201.7,249.5 203.6,256.0 C205.5,262.5 208.3,269.1 210.7,275.0 C213.1,280.9 215.4,286.4 217.8,291.5 C220.2,296.6 222.7,301.2 224.9,305.7 C227.1,310.2 229.3,316.1 230.8,318.7 C232.3,321.2 232.6,323.2 234.0,321.0 C235.4,318.8 238.0,308.6 239.0,305.7 C240.0,302.8 239.4,305.0 240.0,303.8 C240.6,302.5 241.4,299.9 242.3,298.3 C243.2,296.7 244.4,295.2 245.5,294.4 C246.6,293.6 247.3,293.5 248.6,293.6 C249.9,293.7 252.0,294.0 253.3,294.8 C254.6,295.6 255.4,296.3 256.4,298.3 C257.4,300.3 258.4,303.4 259.5,306.9 C260.6,310.4 261.6,315.5 262.7,319.4 C263.8,323.2 264.4,326.3 265.8,330.0 C267.2,333.7 269.3,338.1 271.2,341.7 C273.2,345.3 275.5,349.0 277.5,351.9 C279.5,354.8 281.7,357.7 283.0,358.9 C284.3,360.1 284.4,359.9 285.3,358.9 C286.2,357.9 286.8,355.2 288.4,352.7 C290.0,350.2 292.9,344.4 294.7,344.0 C296.5,343.6 297.3,347.8 299.4,350.3 C301.5,352.8 305.1,357.3 307.2,358.9 C309.3,360.5 310.1,359.7 311.9,360.0 C313.7,360.3 316.6,360.2 318.0,360.5 C319.4,360.8 318.9,361.6 320.0,361.5 C321.1,361.4 323.0,360.5 324.7,359.7 C326.4,358.9 328.8,358.1 330.2,356.6 C331.6,355.2 332.0,353.9 333.3,351.0 C334.6,348.1 336.6,340.9 338.0,339.4 C339.4,337.8 340.7,341.0 341.9,341.7 C343.1,342.4 343.7,343.0 345.0,343.7 C346.3,344.4 348.1,345.2 349.7,345.6 C351.3,346.1 353.0,346.6 354.4,346.4 C355.8,346.2 357.1,345.3 358.3,344.5 C359.5,343.7 360.0,343.1 361.4,341.7 C362.8,340.3 365.3,337.2 366.9,336.2 C368.5,335.3 369.5,335.9 370.8,336.2 C372.1,336.6 373.0,338.1 374.7,338.6 C376.4,339.1 379.3,338.5 381.0,339.4 C382.7,340.3 383.5,342.5 384.8,344.0 C386.1,345.5 387.6,348.0 388.8,348.4 C389.9,348.8 391.1,347.1 391.9,346.4 C392.7,345.7 392.8,346.6 393.5,344.0 C394.2,341.4 395.4,337.1 396.4,331.0 C397.4,324.9 398.0,316.5 399.3,307.2 C400.6,297.9 402.7,284.2 404.2,275.0 C405.7,265.8 407.2,257.1 408.4,251.9 C409.6,246.7 410.5,246.4 411.6,244.0 C412.7,241.6 414.0,238.4 415.0,237.4 C416.0,236.4 416.7,238.1 417.8,237.8 C418.9,237.5 420.7,236.4 421.7,235.5 C422.7,234.6 423.1,233.2 424.0,232.3 C424.9,231.4 426.0,231.1 427.2,230.0 C428.4,228.9 430.0,227.2 431.0,225.6 C432.0,224.0 432.7,221.2 433.4,220.5 C434.1,219.8 434.2,221.6 435.0,221.3 C435.8,221.0 437.0,219.4 438.0,218.6 C439.0,217.8 440.2,216.2 441.2,216.2 C442.3,216.2 443.5,217.4 444.4,218.6 C445.3,219.8 445.7,219.7 446.7,223.3 C447.7,226.9 449.4,235.0 450.6,240.0 C451.8,245.0 452.7,249.6 453.8,253.4 C454.8,257.2 455.7,259.9 456.9,262.8 C458.1,265.7 459.5,268.4 461.0,271.0 C462.5,273.6 464.1,277.7 466.0,278.2 C467.9,278.7 470.9,273.7 472.5,274.0 C474.1,274.3 474.2,277.7 475.5,280.0 C476.8,282.3 479.0,285.6 480.2,287.8 C481.4,290.0 481.6,292.0 482.5,293.3 C483.4,294.6 484.6,295.2 485.6,295.6 C486.6,296.0 487.6,294.7 488.4,295.6 C489.2,296.5 489.5,299.1 490.3,301.0 C491.1,302.9 492.2,304.8 493.4,307.3 C494.6,309.8 495.9,312.2 497.3,316.0 C498.7,319.8 500.1,326.4 501.6,330.0 C503.1,333.6 504.8,334.6 506.2,337.8 C507.7,341.1 508.9,345.6 510.2,349.5 C511.5,353.4 513.0,357.8 514.0,361.2 C515.0,364.7 515.1,366.8 516.2,370.0 C517.4,373.2 519.3,377.6 520.9,380.2 C522.5,382.8 523.8,383.7 525.6,385.6 C527.4,387.6 530.1,390.5 531.9,391.9 C533.7,393.3 535.0,392.8 536.6,394.2 C538.2,395.6 539.4,398.4 541.2,400.5 C543.1,402.6 545.5,404.3 547.5,406.7 C549.5,409.1 550.9,411.6 553.0,415.0 C555.1,418.4 557.5,423.7 560.0,427.2 C562.5,430.7 565.5,433.7 567.8,435.8 C570.1,437.9 572.0,439.1 574.0,439.7 C576.0,440.3 577.9,439.2 579.5,439.3 C581.1,439.4 581.4,439.5 583.4,440.5 C585.4,441.5 588.9,443.5 591.2,445.2 C593.6,446.9 595.4,449.3 597.5,450.6 C599.6,451.9 601.5,452.5 603.8,453.0 C606.0,453.5 608.8,453.5 610.8,453.4 C612.8,453.3 613.8,454.0 615.5,452.6 C617.2,451.2 619.2,447.8 621.0,445.2 C622.8,442.6 624.9,439.7 626.4,437.3 C627.9,434.9 629.0,432.2 630.3,431.0 C631.6,429.8 632.9,430.4 634.2,430.0 C635.5,429.6 637.0,429.4 638.0,428.8 C639.0,428.1 638.9,428.3 640.4,426.0 C641.9,423.7 644.7,418.5 647.0,415.0 C649.3,411.5 651.9,407.5 654.0,405.0 C656.1,402.5 657.9,401.2 659.4,400.2 C660.9,399.2 662.0,399.2 663.3,399.0 C664.6,398.8 666.2,398.4 667.2,398.7 C668.3,399.0 668.4,399.5 669.6,400.6 C670.8,401.7 672.6,403.7 674.2,405.2 C675.9,406.7 677.7,409.0 679.7,409.8 C681.7,410.6 684.0,408.9 686.0,409.8 C688.0,410.7 689.4,413.2 691.4,415.3 C693.4,417.4 696.1,420.6 697.7,422.3 C699.3,424.0 699.2,424.6 700.8,425.5 C702.3,426.4 705.3,427.4 707.0,427.8 C708.7,428.2 709.7,428.2 711.0,428.2 C712.3,428.2 713.5,428.1 714.9,427.8 C716.3,427.5 718.0,427.4 719.6,426.2 C721.2,425.1 722.7,422.9 724.2,420.8 C725.8,418.7 727.5,416.7 729.0,413.8 C730.5,410.8 732.0,406.8 733.2,403.0 C734.4,399.2 735.3,395.6 736.3,391.2 C737.3,386.9 738.2,380.3 739.4,377.2 C740.6,374.1 742.0,373.8 743.3,372.5 C744.6,371.2 746.1,370.0 747.2,369.4 C748.4,368.8 749.6,368.5 750.4,368.6 C751.2,368.7 751.7,369.8 752.0,370.0" fill="none" stroke="#f56e73" stroke-width="1" stroke-opacity="1" stroke-linejoin="round"/>
<line x1="178.1" y1="66.80" x2="967" y2="66.80" stroke="#2962ff" stroke-width="1.5"/><line x1="409.2" y1="143.86" x2="967" y2="143.86" stroke="#2962ff" stroke-width="1.5"/><line x1="472" y1="254.93" x2="967" y2="254.93" stroke="#2962ff" stroke-width="1.5"/><line x1="741.3" y1="318.50" x2="967" y2="318.50" stroke="#2962ff" stroke-width="1.5"/><line x1="506" y1="336.77" x2="967" y2="336.77" stroke="#2962ff" stroke-width="1.5"/><line x1="643.8" y1="367.95" x2="967" y2="367.95" stroke="#2962ff" stroke-width="1.5"/><line x1="593" y1="468.49" x2="967" y2="468.49" stroke="#2962ff" stroke-width="1.5"/>
<line x1="178.1" y1="66.8" x2="957.2" y2="411.9" stroke="#0b0b0e" stroke-width="2"/><line x1="50" y1="484.6" x2="954.8" y2="437.3" stroke="#0b0b0e" stroke-width="2"/>
<line x1="640.5" y1="0" x2="640.5" y2="528" stroke="#50535e" stroke-width="1" stroke-dasharray="3 3"/><line x1="0" y1="227.5" x2="953" y2="227.5" stroke="#50535e" stroke-width="1" stroke-dasharray="3 3"/><line x1="0" y1="378.5" x2="922" y2="378.5" stroke="#f9c3c7" stroke-width="1" stroke-dasharray="1 2"/>
</g>
<line x1="0" y1="528.5" x2="1024" y2="528.5" stroke="#eeeff2" stroke-width="1"/>
<line x1="0" y1="547.5" x2="1024" y2="547.5" stroke="#eeeff2" stroke-width="1"/>
<rect x="0" y="573" width="1024" height="3" fill="#e8e8e9"/>
</svg>

<!-- price axis labels -->
<div id="paxis" style="position:absolute;left:0;top:0;width:1024px;height:528px;overflow:hidden">
<div class="pl" style="top:522.3px">0.00000000</div>
<div class="pl" style="top:495.8px">0.00002000</div>
<div class="pl" style="top:469.3px">0.00004000</div>
<div class="pl" style="top:442.9px">0.00006000</div>
<div class="pl" style="top:416.4px">0.00008000</div>
<div class="pl" style="top:389.9px">0.00010000</div>
<div class="pl" style="top:363.4px">0.00012000</div>
<div class="pl" style="top:336.9px">0.00014000</div>
<div class="pl" style="top:310.5px">0.00016000</div>
<div class="pl" style="top:284.0px">0.00018000</div>
<div class="pl" style="top:257.5px">0.00020000</div>
<div class="pl" style="top:231.0px">0.00022000</div>
<div class="pl" style="top:204.5px">0.00024000</div>
<div class="pl" style="top:178.1px">0.00026000</div>
<div class="pl" style="top:151.6px">0.00028000</div>
<div class="pl" style="top:125.1px">0.00030000</div>
<div class="pl" style="top:98.6px">0.00032000</div>
<div class="pl" style="top:72.1px">0.00034000</div>
<div class="pl" style="top:45.7px">0.00036000</div>
<div class="pl" style="top:19.2px">0.00038000</div>
</div>
<!-- USDT -->
<div class="abs" style="left:969.2px;top:2.5px;width:52px;height:17px;border:1px solid #eef0f5;border-radius:4px"></div>
<div class="abs" style="left:972px;top:5px;font-size:8.7px;line-height:12px;color:#2a2e39;transform:scaleX(0.87);transform-origin:0 50%">USDT</div>

<div class="pb" style="top:61.0px;height:11.0px;background:#2962ff;color:#fff;"><span>0.00034903</span></div>
<div class="pb" style="top:138.5px;height:11.0px;background:#2962ff;color:#fff;"><span>0.00029036</span></div>
<div class="pb" style="top:249.2px;height:11.0px;background:#2962ff;color:#fff;"><span>0.00020647</span></div>
<div class="pb" style="top:312.7px;height:11.0px;background:#2962ff;color:#fff;"><span>0.00015846</span></div>
<div class="pb" style="top:330.8px;height:11.0px;background:#2962ff;color:#fff;"><span>0.00014466</span></div>
<div class="pb" style="top:350.7px;height:10.9px;background:#2962ff;color:#fff;"><span>0.00012111</span></div>
<div class="pb" style="top:361.6px;height:11.0px;background:#ff0000;color:#fff;"><span>0.00011884</span></div>
<div class="pb" style="top:394.2px;height:10.3px;background:#ff7f00;color:#fff;"><span>0.00010474</span></div>
<div class="pb" style="top:405.5px;height:10.3px;background:#1a00ff;color:#fff;"><span>0.00010230</span></div>
<div class="pb" style="top:416.8px;height:10.7px;background:#00ffff;color:#131722;"><span>0.00009723</span></div>
<div class="pb" style="top:463.1px;height:10.5px;background:#2962ff;color:#fff;"><span>0.00004517</span></div>

<!-- current price -->
<div class="abs" style="left:967.3px;top:373.6px;width:49.7px;height:20px;background:#f23645;border-radius:2px"></div>
<div class="abs" style="left:972.8px;top:373px;font-size:8.7px;line-height:12px;color:#fff;transform:scaleX(0.885);transform-origin:0 50%">0.00011313</div>
<div class="abs" style="left:972.8px;top:382.6px;font-size:8.7px;line-height:12px;color:#fde7e9;transform:scaleX(0.885);transform-origin:0 50%">13:43:03</div>
<div class="abs" style="left:922.2px;top:373px;width:44.4px;height:11.4px;background:#f23645;border-radius:2px"></div>
<div class="abs" style="left:924.9px;top:372.7px;font-size:8.7px;line-height:12px;color:#fff;transform:scaleX(0.82);transform-origin:0 50%">FLOKIUSDT</div>

<!-- crosshair price label -->
<div class="abs" style="left:952.7px;top:220.3px;width:14px;height:14.1px;background:#131722;border-radius:2px 0 0 2px"></div>
<svg class="abs" style="left:952.7px;top:220.3px" width="14" height="14" viewBox="0 0 14 14"><circle cx="6.9" cy="7.1" r="5.1" fill="none" stroke="#d1d4dc" stroke-width="0.9"/><path d="M6.9 4.5v5.2M4.3 7.1h5.2" stroke="#fff" stroke-width="0.9"/></svg>
<div class="abs" style="left:968.1px;top:220.3px;width:48.9px;height:14.1px;background:#131722;border-radius:0 2px 2px 0"></div>
<div class="abs" style="left:972.8px;top:221.3px;font-size:8.9px;line-height:12px;color:#fff;transform:scaleX(0.885);transform-origin:0 50%">0.00022736</div>

<!-- time axis -->
<div id="taxis">
<div class="tl" style="left:-10.0px">Feb</div>
<div class="tl" style="left:29.5px">Mar</div>
<div class="tl" style="left:71.7px">Apr</div>
<div class="tl" style="left:112.5px">May</div>
<div class="tl" style="left:154.7px">Jun</div>
<div class="tl" style="left:195.5px">Jul</div>
<div class="tl" style="left:237.7px">Aug</div>
<div class="tl" style="left:279.9px">Sep</div>
<div class="tl" style="left:320.7px">Oct</div>
<div class="tl" style="left:362.9px">Nov</div>
<div class="tl" style="left:403.7px">Dec</div>
<div class="tl b" style="left:445.9px">2025</div>
<div class="tl" style="left:488.1px">Feb</div>
<div class="tl" style="left:526.2px">Mar</div>
<div class="tl" style="left:568.4px">Apr</div>
<div class="tl" style="left:651.4px">Jun</div>
<div class="tl" style="left:692.3px">Jul</div>
<div class="tl" style="left:734.5px">Aug</div>
<div class="tl" style="left:776.7px">Sep</div>
<div class="tl" style="left:817.5px">Oct</div>
<div class="tl" style="left:859.7px">Nov</div>
<div class="tl" style="left:900.5px">Dec</div>
<div class="tl b" style="left:942.7px">2026</div>
</div>
<div class="abs" style="left:609px;top:529px;width:60.8px;height:15.9px;background:#131722;border-radius:0 0 2px 2px"></div>
<div class="abs" style="left:615px;top:532.3px;font-size:8.8px;line-height:12px;color:#fff;transform:scaleX(0.88);transform-origin:0 50%">Fri 09 May '25</div>
<!-- settings hex -->
<svg class="abs" style="left:990px;top:533px" width="12" height="12" viewBox="0 0 12 12"><path d="M3.2 1.2h5.6L11.4 6 8.8 10.8H3.2L0.6 6z" fill="none" stroke="#50535e" stroke-width="0.9"/><circle cx="6" cy="6" r="1.5" fill="none" stroke="#50535e" stroke-width="0.9"/></svg>

<!-- bottom toolbar -->
<div class="abs" id="tb" style="left:0;top:555px;font-size:10px;line-height:12px;color:#131722;-webkit-text-stroke:0.15px #131722">
<span class="abs" style="left:9.5px">1D</span>
<span class="abs" style="left:27.8px">5D</span>
<span class="abs" style="left:46.5px">1M</span>
<span class="abs" style="left:65.8px">3M</span>
<span class="abs" style="left:85.2px">6M</span>
<span class="abs" style="left:104.5px">YTD</span>
<span class="abs" style="left:129.6px">1Y</span>
<span class="abs" style="left:148.6px">All</span>
</div>
<div class="abs" style="left:165.5px;top:553px;width:1px;height:16px;background:#e0e3eb"></div>
<svg class="abs" style="left:174px;top:552px" width="15" height="15" viewBox="0 0 15 15"><path d="M1.8 7.2V3.5h11.4v9.4H7.5M5.5 1.3v2.4M9.7 1.3v2.4M1 11.3h5.2M4.3 9.3l2 2-2 2" fill="none" stroke="#2a2e39" stroke-width="1"/><path d="M1.8 5.5h11.4" stroke="#2a2e39" stroke-width="1.6"/></svg>
<div class="abs" style="left:939px;top:554.6px;font-size:9.8px;line-height:12px;color:#131722;transform:scaleX(0.914);transform-origin:0 50%">15:46:56 UTC+5:30</div>

<!-- header -->
<svg class="abs" style="left:5px;top:3px" width="16" height="15" viewBox="0 0 16 15"><circle cx="9.3" cy="5.5" r="3.9" fill="#17998f"/><path d="M7.6 4.1h3.4M9.3 4.1v3.6M9.9 4.6l1.2 1-1.2 1" stroke="#cdeeea" stroke-width="0.8" fill="none"/><circle cx="5.2" cy="9" r="4.2" fill="#eef1f8"/><path d="M3 8.3h4.4l-0.3 1.9H3.3z" fill="#c07a2c"/><path d="M3.6 7.2h3.2v1.1H3.6z" fill="#9a9ca3"/></svg>
<div class="abs" id="title" style="left:0;top:4.2px;width:180px;height:14px;font-size:11px;line-height:14px;color:#131722;-webkit-text-stroke:0.25px #131722">
<span class="tw" style="left:20.6px">FLOKI</span><span class="tw" style="left:51.9px">/</span><span class="tw" style="left:60px;transform:scaleX(0.9)">TetherUS</span><span class="tw" style="left:103.9px">·</span><span class="tw" style="left:110.1px">1D</span><span class="tw" style="left:125px">·</span><span class="tw" style="left:130.3px;transform:scaleX(0.835)">BINANCE</span></div>
<svg class="abs" style="left:181px;top:4.8px" width="13" height="13" viewBox="0 0 13 13"><circle cx="6.5" cy="6.3" r="6" fill="#d7efeb"/><circle cx="6.5" cy="6.3" r="2.5" fill="#089981"/></svg>
<div class="abs" id="ohlc" style="left:204.1px;top:5px;font-size:8.56px;line-height:12px;color:#089981"><span style="color:#2a2e39">O</span>0.00009159 <span style="color:#2a2e39">H</span>0.00010480 <span style="color:#2a2e39">L</span>0.00009064 <span style="color:#2a2e39">C</span>0.00009988 +0.00000829 (+9.05%)</div>

<div class="abs" style="left:4.9px;top:21.2px;width:60.1px;height:23.2px;border:1px solid #f7a0a6;border-radius:4px;background:#fff"></div>
<div class="abs" style="left:12.7px;top:22.4px;font-size:8.4px;line-height:12px;color:#f23645;-webkit-text-stroke:0.2px #f23645">0.00011303</div>
<div class="abs" style="left:26.7px;top:31.9px;font-size:7.8px;line-height:12px;color:#f5737e;transform:scaleX(0.83);transform-origin:0 50%">SELL</div>
<div class="abs" style="left:70px;top:26.6px;font-size:7.6px;line-height:12px;color:#2a2e39;transform:scaleX(0.84);transform-origin:0 50%">0.00000001</div>
<div class="abs" style="left:109.3px;top:21.2px;width:59.7px;height:23.2px;border:1px solid #9db8fb;border-radius:4px;background:#fff"></div>
<div class="abs" style="left:116.9px;top:22.4px;font-size:8.4px;line-height:12px;color:#2962ff;-webkit-text-stroke:0.2px #2962ff">0.00011304</div>
<div class="abs" style="left:132px;top:31.9px;font-size:7.8px;line-height:12px;color:#5b85f7;transform:scaleX(0.87);transform-origin:0 50%">BUY</div>

<div class="abs" id="ema" style="left:5.7px;top:48.8px;font-size:8.4px;line-height:12px;color:#2a2e39;letter-spacing:0.22px">EMA 20/50/100/200</div>
<div class="abs" style="left:87.8px;top:48.8px;font-size:8.4px;line-height:12px;color:#f23645">0.00007853</div>
<div class="abs" style="left:136.3px;top:48.8px;font-size:8.4px;line-height:12px;color:#ff9833">0.00007383</div>
<div class="abs" style="left:184.7px;top:48.8px;font-size:8.4px;line-height:12px;color:#38e8f2">0.00008566</div>
<div class="abs" style="left:232.9px;top:48.8px;font-size:8.4px;line-height:12px;color:#2e2ef0">0.00010843</div>

<div class="abs" style="left:4.4px;top:64.2px;width:18.1px;height:14.2px;border:1px solid #e0e3eb;border-radius:3px;background:#fff"></div>
<svg class="abs" style="left:9px;top:68px" width="9" height="6" viewBox="0 0 9 6"><path d="M1.3 4.6L4.5 1.6 7.7 4.6" fill="none" stroke="#2a2e39" stroke-width="1.2"/></svg>

<!-- TradingView logo -->
<svg class="abs" style="left:8px;top:509.5px" width="21" height="11" viewBox="0 0 21 11"><path d="M0.1 0.3H8.2V10.3H4.2V4.1H0.1z" fill="#131722"/><circle cx="11.3" cy="2.1" r="1.9" fill="#131722"/><path d="M15.4 0.3H19.6L15.4 10.3H11.2z" fill="#131722"/></svg>
<div class="abs" style="left:32.8px;top:506.5px;font-size:13.6px;line-height:16px;font-weight:bold;color:#131722;letter-spacing:-0.02px">TradingView</div>

<!-- lightning -->
<svg class="abs" style="left:744.5px;top:512.5px" width="15" height="15" viewBox="0 0 15 15"><circle cx="7.5" cy="7.3" r="6.4" fill="#fff" stroke="#b03fce" stroke-width="1.1"/><path d="M9.4 4.1L6 7.5h3.1L5.6 10.7" fill="none" stroke="#b03fce" stroke-width="1.3" stroke-linejoin="miter"/></svg>
</body></html>
